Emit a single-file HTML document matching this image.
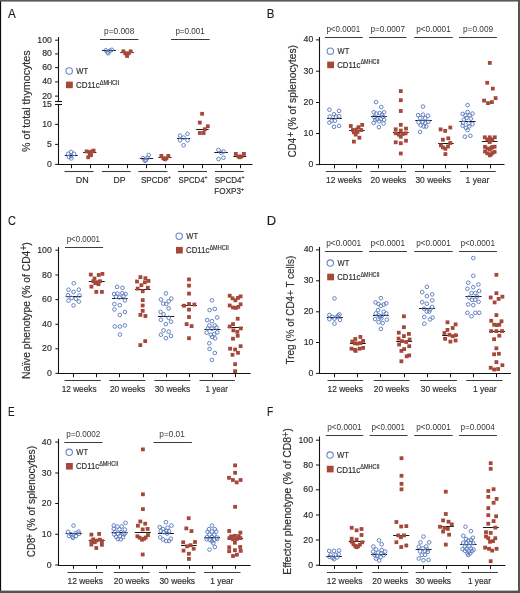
<!DOCTYPE html>
<html><head><meta charset="utf-8"><title>Figure</title>
<style>html,body{margin:0;padding:0;background:#fff;}body{width:520px;height:593px;overflow:hidden;}svg{display:block;will-change:transform;}text{stroke:#2e2e2e;stroke-width:0.18px;}</style>
</head><body>
<svg width="520" height="593" viewBox="0 0 520 593" font-family='"Liberation Sans", sans-serif'>
<rect x="0" y="0" width="520" height="593" fill="#fff"/>
<text x="8.08" y="17.9" font-size="13.7" textLength="7.75" lengthAdjust="spacingAndGlyphs" fill="#1c1c1c">A</text>
<text x="266.86" y="17.7" font-size="13.7" textLength="7.64" lengthAdjust="spacingAndGlyphs" fill="#1c1c1c">B</text>
<text x="8.05" y="224.7" font-size="13.7" textLength="7.87" lengthAdjust="spacingAndGlyphs" fill="#1c1c1c">C</text>
<text x="266.73" y="224.7" font-size="13.7" textLength="9.39" lengthAdjust="spacingAndGlyphs" fill="#1c1c1c">D</text>
<text x="7.98" y="415.8" font-size="13.7" textLength="6.65" lengthAdjust="spacingAndGlyphs" fill="#1c1c1c">E</text>
<text x="266.96" y="415.8" font-size="13.7" textLength="6.25" lengthAdjust="spacingAndGlyphs" fill="#1c1c1c">F</text>
<line x1="58.5" y1="37" x2="58.5" y2="101" stroke="#141414" stroke-width="1.1"/>
<line x1="55" y1="101.5" x2="62" y2="101.5" stroke="#141414" stroke-width="1.1"/>
<line x1="55" y1="104.5" x2="62" y2="104.5" stroke="#141414" stroke-width="1.1"/>
<line x1="58.5" y1="104.6" x2="58.5" y2="165" stroke="#141414" stroke-width="1.1"/>
<line x1="55.1" y1="40.2" x2="58.5" y2="40.2" stroke="#141414" stroke-width="1"/>
<text x="37.36" y="42.75" font-size="9.4" textLength="14.59" lengthAdjust="spacingAndGlyphs" fill="#2e2e2e">100</text>
<line x1="55.1" y1="53.9" x2="58.5" y2="53.9" stroke="#141414" stroke-width="1"/>
<text x="42.22" y="56.45" font-size="9.4" textLength="9.72" lengthAdjust="spacingAndGlyphs" fill="#2e2e2e">80</text>
<line x1="55.1" y1="67.6" x2="58.5" y2="67.6" stroke="#141414" stroke-width="1"/>
<text x="42.22" y="70.15" font-size="9.4" textLength="9.72" lengthAdjust="spacingAndGlyphs" fill="#2e2e2e">60</text>
<line x1="55.1" y1="81.9" x2="58.5" y2="81.9" stroke="#141414" stroke-width="1"/>
<text x="42.22" y="84.45" font-size="9.4" textLength="9.72" lengthAdjust="spacingAndGlyphs" fill="#2e2e2e">40</text>
<line x1="55.1" y1="96.1" x2="58.5" y2="96.1" stroke="#141414" stroke-width="1"/>
<text x="42.22" y="98.65" font-size="9.4" textLength="9.72" lengthAdjust="spacingAndGlyphs" fill="#2e2e2e">20</text>
<text x="42.24" y="107.15" font-size="9.4" textLength="9.72" lengthAdjust="spacingAndGlyphs" fill="#2e2e2e">15</text>
<line x1="55.1" y1="124.4" x2="58.5" y2="124.4" stroke="#141414" stroke-width="1"/>
<text x="42.22" y="126.95" font-size="9.4" textLength="9.72" lengthAdjust="spacingAndGlyphs" fill="#2e2e2e">10</text>
<line x1="55.1" y1="144.4" x2="58.5" y2="144.4" stroke="#141414" stroke-width="1"/>
<text x="47.11" y="146.95" font-size="9.4" textLength="4.86" lengthAdjust="spacingAndGlyphs" fill="#2e2e2e">5</text>
<line x1="55.1" y1="164.4" x2="58.5" y2="164.4" stroke="#141414" stroke-width="1"/>
<text x="47.08" y="166.95" font-size="9.4" textLength="4.86" lengthAdjust="spacingAndGlyphs" fill="#2e2e2e">0</text>
<line x1="57.95" y1="164.5" x2="252.5" y2="164.5" stroke="#141414" stroke-width="1.1"/>
<line x1="71.5" y1="164.5" x2="71.5" y2="168.2" stroke="#141414" stroke-width="1"/>
<line x1="90.5" y1="164.5" x2="90.5" y2="168.2" stroke="#141414" stroke-width="1"/>
<line x1="108.5" y1="164.5" x2="108.5" y2="168.2" stroke="#141414" stroke-width="1"/>
<line x1="127.5" y1="164.5" x2="127.5" y2="168.2" stroke="#141414" stroke-width="1"/>
<line x1="146.5" y1="164.5" x2="146.5" y2="168.2" stroke="#141414" stroke-width="1"/>
<line x1="165.5" y1="164.5" x2="165.5" y2="168.2" stroke="#141414" stroke-width="1"/>
<line x1="183.5" y1="164.5" x2="183.5" y2="168.2" stroke="#141414" stroke-width="1"/>
<line x1="202.5" y1="164.5" x2="202.5" y2="168.2" stroke="#141414" stroke-width="1"/>
<line x1="221.5" y1="164.5" x2="221.5" y2="168.2" stroke="#141414" stroke-width="1"/>
<line x1="240.5" y1="164.5" x2="240.5" y2="168.2" stroke="#141414" stroke-width="1"/>
<line x1="64.5" y1="171.5" x2="93.5" y2="171.5" stroke="#3c3c3c" stroke-width="1.1"/>
<line x1="101.9" y1="171.5" x2="130.7" y2="171.5" stroke="#3c3c3c" stroke-width="1.1"/>
<line x1="138.3" y1="171.5" x2="167.5" y2="171.5" stroke="#3c3c3c" stroke-width="1.1"/>
<line x1="178" y1="171.5" x2="207" y2="171.5" stroke="#3c3c3c" stroke-width="1.1"/>
<line x1="215" y1="171.5" x2="243.8" y2="171.5" stroke="#3c3c3c" stroke-width="1.1"/>
<text x="75.76" y="182.7" font-size="9.8" textLength="12.97" lengthAdjust="spacingAndGlyphs" fill="#2e2e2e">DN</text>
<text x="113.49" y="182.7" font-size="9.8" textLength="11.96" lengthAdjust="spacingAndGlyphs" fill="#2e2e2e">DP</text>
<g transform="translate(140.93,182.5) scale(0.8271,1)" fill="#2e2e2e">
<text x="0" y="0" font-size="9.8" textLength="32.68" lengthAdjust="spacingAndGlyphs">SPCD8</text>
<text x="32.68" y="-3.4" font-size="6.2" textLength="3.62" lengthAdjust="spacingAndGlyphs">+</text>
</g>
<g transform="translate(178.44,182.5) scale(0.7989,1)" fill="#2e2e2e">
<text x="0" y="0" font-size="9.8" textLength="32.68" lengthAdjust="spacingAndGlyphs">SPCD4</text>
<text x="32.68" y="-3.4" font-size="6.2" textLength="3.62" lengthAdjust="spacingAndGlyphs">+</text>
</g>
<g transform="translate(214.63,182.5) scale(0.8242,1)" fill="#2e2e2e">
<text x="0" y="0" font-size="9.8" textLength="32.68" lengthAdjust="spacingAndGlyphs">SPCD4</text>
<text x="32.68" y="-3.4" font-size="6.2" textLength="3.62" lengthAdjust="spacingAndGlyphs">+</text>
</g>
<g transform="translate(214.33,194.4) scale(0.8313,1)" fill="#2e2e2e">
<text x="0" y="0" font-size="9.8" textLength="32.13" lengthAdjust="spacingAndGlyphs">FOXP3</text>
<text x="32.13" y="-3.4" font-size="6.2" textLength="3.62" lengthAdjust="spacingAndGlyphs">+</text>
</g>
<text x="104.06" y="33.9" font-size="8.5" textLength="30.3" lengthAdjust="spacingAndGlyphs" fill="#383838" style="stroke-width:0">p=0.008</text>
<line x1="100" y1="39.5" x2="138.4" y2="39.5" stroke="#3c3c3c" stroke-width="1.2"/>
<text x="175.38" y="33.8" font-size="8.5" textLength="29.41" lengthAdjust="spacingAndGlyphs" fill="#383838" style="stroke-width:0">p=0.001</text>
<line x1="171" y1="39.5" x2="209.6" y2="39.5" stroke="#3c3c3c" stroke-width="1.2"/>
<circle cx="69.2" cy="71" r="3.2" fill="none" stroke="#6887c9" stroke-width="1.1"/>
<text x="76.37" y="73.9" font-size="8.9" textLength="11.81" lengthAdjust="spacingAndGlyphs" fill="#2e2e2e">WT</text>
<rect x="66" y="81.6" width="6.8" height="6.6" fill="#a5483a"/>
<g transform="translate(76.01,87.7) scale(0.8709,1)" fill="#2e2e2e">
<text x="0" y="0" font-size="8.9" textLength="27.2" lengthAdjust="spacingAndGlyphs">CD11c</text>
<text x="27.2" y="-3.2" font-size="6.4" textLength="22.41" lengthAdjust="spacingAndGlyphs">ΔMHCII</text>
</g>
<g transform="translate(29.6,151.98) rotate(-90) scale(0.9457,1)" fill="#2e2e2e">
<text x="0" y="0" font-size="11.3" textLength="107.39" lengthAdjust="spacingAndGlyphs">% of total thymocytes</text>
</g>
<line x1="64.8" y1="155.5" x2="77.7" y2="155.5" stroke="#1a1a1a" stroke-width="1"/>
<circle cx="68.2" cy="153.8" r="1.82" fill="none" stroke="#5d7cbf" stroke-width="0.95"/>
<circle cx="71.1" cy="151.9" r="1.82" fill="none" stroke="#5d7cbf" stroke-width="0.95"/>
<circle cx="74.1" cy="153.8" r="1.82" fill="none" stroke="#5d7cbf" stroke-width="0.95"/>
<circle cx="71.1" cy="156" r="1.82" fill="none" stroke="#5d7cbf" stroke-width="0.95"/>
<circle cx="68.8" cy="157" r="1.82" fill="none" stroke="#5d7cbf" stroke-width="0.95"/>
<circle cx="71.4" cy="158.4" r="1.82" fill="none" stroke="#5d7cbf" stroke-width="0.95"/>
<line x1="83.2" y1="152.5" x2="96.4" y2="152.5" stroke="#1a1a1a" stroke-width="1"/>
<rect x="84.7" y="149.5" width="3.8" height="3.8" fill="#a5483a"/>
<rect x="87.6" y="150.1" width="3.8" height="3.8" fill="#a5483a"/>
<rect x="90.7" y="149.5" width="3.8" height="3.8" fill="#a5483a"/>
<rect x="91.7" y="148.7" width="3.8" height="3.8" fill="#a5483a"/>
<rect x="87.9" y="152.6" width="3.8" height="3.8" fill="#a5483a"/>
<rect x="86.3" y="155.4" width="3.8" height="3.8" fill="#a5483a"/>
<rect x="89.1" y="153.3" width="3.8" height="3.8" fill="#a5483a"/>
<line x1="102" y1="50.5" x2="115.8" y2="50.5" stroke="#1a1a1a" stroke-width="1"/>
<circle cx="105.7" cy="50.3" r="1.82" fill="none" stroke="#5d7cbf" stroke-width="0.95"/>
<circle cx="107.6" cy="52.2" r="1.82" fill="none" stroke="#5d7cbf" stroke-width="0.95"/>
<circle cx="109.9" cy="50.8" r="1.82" fill="none" stroke="#5d7cbf" stroke-width="0.95"/>
<circle cx="111.8" cy="49.8" r="1.82" fill="none" stroke="#5d7cbf" stroke-width="0.95"/>
<circle cx="108.2" cy="53.3" r="1.82" fill="none" stroke="#5d7cbf" stroke-width="0.95"/>
<line x1="120.3" y1="52.5" x2="133.8" y2="52.5" stroke="#1a1a1a" stroke-width="1"/>
<rect x="121.5" y="49.4" width="3.8" height="3.8" fill="#a5483a"/>
<rect x="128.8" y="49.4" width="3.8" height="3.8" fill="#a5483a"/>
<rect x="123.4" y="51.4" width="3.8" height="3.8" fill="#a5483a"/>
<rect x="126.9" y="51.4" width="3.8" height="3.8" fill="#a5483a"/>
<rect x="125.2" y="54.1" width="3.8" height="3.8" fill="#a5483a"/>
<rect x="125.2" y="52.6" width="3.8" height="3.8" fill="#a5483a"/>
<line x1="139.8" y1="158.5" x2="153.1" y2="158.5" stroke="#1a1a1a" stroke-width="1"/>
<circle cx="142.9" cy="158.1" r="1.82" fill="none" stroke="#5d7cbf" stroke-width="0.95"/>
<circle cx="146" cy="160" r="1.82" fill="none" stroke="#5d7cbf" stroke-width="0.95"/>
<circle cx="148.7" cy="155" r="1.82" fill="none" stroke="#5d7cbf" stroke-width="0.95"/>
<circle cx="147.5" cy="158" r="1.82" fill="none" stroke="#5d7cbf" stroke-width="0.95"/>
<circle cx="145" cy="160.8" r="1.82" fill="none" stroke="#5d7cbf" stroke-width="0.95"/>
<line x1="158.3" y1="157.5" x2="171.5" y2="157.5" stroke="#1a1a1a" stroke-width="1"/>
<rect x="159.5" y="154" width="3.8" height="3.8" fill="#a5483a"/>
<rect x="166.4" y="154" width="3.8" height="3.8" fill="#a5483a"/>
<rect x="161.4" y="156.4" width="3.8" height="3.8" fill="#a5483a"/>
<rect x="164.5" y="156.4" width="3.8" height="3.8" fill="#a5483a"/>
<rect x="163.1" y="157.4" width="3.8" height="3.8" fill="#a5483a"/>
<line x1="177.1" y1="138.5" x2="190.2" y2="138.5" stroke="#1a1a1a" stroke-width="1"/>
<circle cx="180" cy="135.7" r="1.82" fill="none" stroke="#5d7cbf" stroke-width="0.95"/>
<circle cx="187.5" cy="133.8" r="1.82" fill="none" stroke="#5d7cbf" stroke-width="0.95"/>
<circle cx="183.6" cy="137.6" r="1.82" fill="none" stroke="#5d7cbf" stroke-width="0.95"/>
<circle cx="180" cy="140.3" r="1.82" fill="none" stroke="#5d7cbf" stroke-width="0.95"/>
<circle cx="187.5" cy="140.3" r="1.82" fill="none" stroke="#5d7cbf" stroke-width="0.95"/>
<circle cx="183.6" cy="145.3" r="1.82" fill="none" stroke="#5d7cbf" stroke-width="0.95"/>
<line x1="196.2" y1="129.5" x2="208.6" y2="129.5" stroke="#1a1a1a" stroke-width="1"/>
<rect x="200.2" y="111.9" width="3.8" height="3.8" fill="#a5483a"/>
<rect x="197.9" y="120.7" width="3.8" height="3.8" fill="#a5483a"/>
<rect x="205.9" y="124.4" width="3.8" height="3.8" fill="#a5483a"/>
<rect x="202.9" y="127.3" width="3.8" height="3.8" fill="#a5483a"/>
<rect x="197.9" y="131.1" width="3.8" height="3.8" fill="#a5483a"/>
<rect x="201.7" y="131.1" width="3.8" height="3.8" fill="#a5483a"/>
<line x1="214.3" y1="152.5" x2="227.8" y2="152.5" stroke="#1a1a1a" stroke-width="1"/>
<circle cx="218.5" cy="150" r="1.82" fill="none" stroke="#5d7cbf" stroke-width="0.95"/>
<circle cx="223.5" cy="151.5" r="1.82" fill="none" stroke="#5d7cbf" stroke-width="0.95"/>
<circle cx="221.2" cy="152.7" r="1.82" fill="none" stroke="#5d7cbf" stroke-width="0.95"/>
<circle cx="223.5" cy="157.7" r="1.82" fill="none" stroke="#5d7cbf" stroke-width="0.95"/>
<circle cx="218.5" cy="159" r="1.82" fill="none" stroke="#5d7cbf" stroke-width="0.95"/>
<line x1="233.2" y1="156.5" x2="246.2" y2="156.5" stroke="#1a1a1a" stroke-width="1"/>
<rect x="233.9" y="152" width="3.8" height="3.8" fill="#a5483a"/>
<rect x="242" y="152" width="3.8" height="3.8" fill="#a5483a"/>
<rect x="236.6" y="154.5" width="3.8" height="3.8" fill="#a5483a"/>
<rect x="239.7" y="154.5" width="3.8" height="3.8" fill="#a5483a"/>
<rect x="237.8" y="155.4" width="3.8" height="3.8" fill="#a5483a"/>
<line x1="319.5" y1="37" x2="319.5" y2="165.1" stroke="#141414" stroke-width="1.1"/>
<line x1="316" y1="39.9" x2="319.4" y2="39.9" stroke="#141414" stroke-width="1"/>
<text x="303.62" y="42.45" font-size="9.4" textLength="9.72" lengthAdjust="spacingAndGlyphs" fill="#2e2e2e">40</text>
<line x1="316" y1="71.2" x2="319.4" y2="71.2" stroke="#141414" stroke-width="1"/>
<text x="303.62" y="73.75" font-size="9.4" textLength="9.72" lengthAdjust="spacingAndGlyphs" fill="#2e2e2e">30</text>
<line x1="316" y1="102.5" x2="319.4" y2="102.5" stroke="#141414" stroke-width="1"/>
<text x="303.62" y="105.05" font-size="9.4" textLength="9.72" lengthAdjust="spacingAndGlyphs" fill="#2e2e2e">20</text>
<line x1="316" y1="133.5" x2="319.4" y2="133.5" stroke="#141414" stroke-width="1"/>
<text x="303.62" y="136.05" font-size="9.4" textLength="9.72" lengthAdjust="spacingAndGlyphs" fill="#2e2e2e">10</text>
<line x1="316" y1="164.6" x2="319.4" y2="164.6" stroke="#141414" stroke-width="1"/>
<text x="308.48" y="167.15" font-size="9.4" textLength="4.86" lengthAdjust="spacingAndGlyphs" fill="#2e2e2e">0</text>
<line x1="318.85" y1="164.5" x2="504.5" y2="164.5" stroke="#141414" stroke-width="1.1"/>
<line x1="334.5" y1="164.6" x2="334.5" y2="168.4" stroke="#141414" stroke-width="1"/>
<line x1="356.5" y1="164.6" x2="356.5" y2="168.4" stroke="#141414" stroke-width="1"/>
<line x1="378.5" y1="164.6" x2="378.5" y2="168.4" stroke="#141414" stroke-width="1"/>
<line x1="401.5" y1="164.6" x2="401.5" y2="168.4" stroke="#141414" stroke-width="1"/>
<line x1="423.5" y1="164.6" x2="423.5" y2="168.4" stroke="#141414" stroke-width="1"/>
<line x1="445.5" y1="164.6" x2="445.5" y2="168.4" stroke="#141414" stroke-width="1"/>
<line x1="467.5" y1="164.6" x2="467.5" y2="168.4" stroke="#141414" stroke-width="1"/>
<line x1="490.5" y1="164.6" x2="490.5" y2="168.4" stroke="#141414" stroke-width="1"/>
<line x1="325.8" y1="171.5" x2="361.9" y2="171.5" stroke="#3c3c3c" stroke-width="1.1"/>
<line x1="370.4" y1="171.5" x2="406.2" y2="171.5" stroke="#3c3c3c" stroke-width="1.1"/>
<line x1="415" y1="171.5" x2="451.25" y2="171.5" stroke="#3c3c3c" stroke-width="1.1"/>
<line x1="460" y1="171.5" x2="495.75" y2="171.5" stroke="#3c3c3c" stroke-width="1.1"/>
<text x="326.06" y="182.7" font-size="9.8" textLength="35.54" lengthAdjust="spacingAndGlyphs" fill="#2e2e2e">12 weeks</text>
<text x="370.57" y="182.7" font-size="9.8" textLength="35.73" lengthAdjust="spacingAndGlyphs" fill="#2e2e2e">20 weeks</text>
<text x="415.43" y="182.7" font-size="9.8" textLength="35.63" lengthAdjust="spacingAndGlyphs" fill="#2e2e2e">30 weeks</text>
<text x="465.6" y="182.7" font-size="9.8" textLength="23.79" lengthAdjust="spacingAndGlyphs" fill="#2e2e2e">1 year</text>
<text x="326.38" y="31.8" font-size="8.5" textLength="33.81" lengthAdjust="spacingAndGlyphs" fill="#383838" style="stroke-width:0">p&lt;0.0001</text>
<line x1="324.9" y1="37.5" x2="362.8" y2="37.5" stroke="#3c3c3c" stroke-width="1.2"/>
<text x="370.47" y="31.8" font-size="8.5" textLength="34.54" lengthAdjust="spacingAndGlyphs" fill="#383838" style="stroke-width:0">p=0.0007</text>
<line x1="369" y1="37.5" x2="406.5" y2="37.5" stroke="#3c3c3c" stroke-width="1.2"/>
<text x="416.17" y="31.8" font-size="8.5" textLength="34.63" lengthAdjust="spacingAndGlyphs" fill="#383838" style="stroke-width:0">p&lt;0.0001</text>
<line x1="414.2" y1="37.5" x2="452.7" y2="37.5" stroke="#3c3c3c" stroke-width="1.2"/>
<text x="462.97" y="31.8" font-size="8.5" textLength="30.12" lengthAdjust="spacingAndGlyphs" fill="#383838" style="stroke-width:0">p=0.009</text>
<line x1="459" y1="37.5" x2="496.9" y2="37.5" stroke="#3c3c3c" stroke-width="1.2"/>
<circle cx="330.3" cy="51.2" r="3.2" fill="none" stroke="#6887c9" stroke-width="1.1"/>
<text x="337.57" y="54.1" font-size="8.9" textLength="11.71" lengthAdjust="spacingAndGlyphs" fill="#2e2e2e">WT</text>
<rect x="327.2" y="61.6" width="6.8" height="6.6" fill="#a5483a"/>
<g transform="translate(337.21,67.6) scale(0.8545,1)" fill="#2e2e2e">
<text x="0" y="0" font-size="8.9" textLength="27.2" lengthAdjust="spacingAndGlyphs">CD11c</text>
<text x="27.2" y="-3.2" font-size="6.4" textLength="22.41" lengthAdjust="spacingAndGlyphs">ΔMHCII</text>
</g>
<text transform="translate(296.2,157.19) rotate(-90)" x="0" y="0" font-size="11.3" textLength="19.27" lengthAdjust="spacingAndGlyphs" fill="#2e2e2e">CD4</text>
<text transform="translate(294,136.94) rotate(-90)" x="0" y="0" font-size="10" textLength="5.29" lengthAdjust="spacingAndGlyphs" fill="#2e2e2e">+</text>
<text transform="translate(296.2,130.04) rotate(-90)" x="0" y="0" font-size="11.3" textLength="85.08" lengthAdjust="spacingAndGlyphs" fill="#2e2e2e">(% of splenocytes)</text>
<line x1="327.1" y1="118.5" x2="341.9" y2="118.5" stroke="#1a1a1a" stroke-width="1"/>
<circle cx="329.4" cy="109.7" r="1.82" fill="none" stroke="#5d7cbf" stroke-width="0.95"/>
<circle cx="339.1" cy="110.9" r="1.82" fill="none" stroke="#5d7cbf" stroke-width="0.95"/>
<circle cx="334" cy="114.3" r="1.82" fill="none" stroke="#5d7cbf" stroke-width="0.95"/>
<circle cx="329.8" cy="116.6" r="1.82" fill="none" stroke="#5d7cbf" stroke-width="0.95"/>
<circle cx="335.9" cy="116.6" r="1.82" fill="none" stroke="#5d7cbf" stroke-width="0.95"/>
<circle cx="339.1" cy="116.2" r="1.82" fill="none" stroke="#5d7cbf" stroke-width="0.95"/>
<circle cx="331.7" cy="120.8" r="1.82" fill="none" stroke="#5d7cbf" stroke-width="0.95"/>
<circle cx="334.9" cy="120.8" r="1.82" fill="none" stroke="#5d7cbf" stroke-width="0.95"/>
<circle cx="329.4" cy="122.6" r="1.82" fill="none" stroke="#5d7cbf" stroke-width="0.95"/>
<circle cx="334" cy="126.8" r="1.82" fill="none" stroke="#5d7cbf" stroke-width="0.95"/>
<circle cx="339.1" cy="125.9" r="1.82" fill="none" stroke="#5d7cbf" stroke-width="0.95"/>
<line x1="349.2" y1="130.5" x2="364.7" y2="130.5" stroke="#1a1a1a" stroke-width="1"/>
<rect x="348.9" y="124.1" width="3.8" height="3.8" fill="#a5483a"/>
<rect x="360.3" y="123" width="3.8" height="3.8" fill="#a5483a"/>
<rect x="356.6" y="125.3" width="3.8" height="3.8" fill="#a5483a"/>
<rect x="351" y="128.1" width="3.8" height="3.8" fill="#a5483a"/>
<rect x="354.7" y="127.6" width="3.8" height="3.8" fill="#a5483a"/>
<rect x="359.3" y="128.1" width="3.8" height="3.8" fill="#a5483a"/>
<rect x="352" y="130.4" width="3.8" height="3.8" fill="#a5483a"/>
<rect x="355.6" y="130" width="3.8" height="3.8" fill="#a5483a"/>
<rect x="353.8" y="132.7" width="3.8" height="3.8" fill="#a5483a"/>
<rect x="357.5" y="135.8" width="3.8" height="3.8" fill="#a5483a"/>
<rect x="352" y="139.7" width="3.8" height="3.8" fill="#a5483a"/>
<line x1="370.9" y1="116.5" x2="386.8" y2="116.5" stroke="#1a1a1a" stroke-width="1"/>
<circle cx="376.1" cy="102.1" r="1.82" fill="none" stroke="#5d7cbf" stroke-width="0.95"/>
<circle cx="381.3" cy="107.1" r="1.82" fill="none" stroke="#5d7cbf" stroke-width="0.95"/>
<circle cx="373.7" cy="112.3" r="1.82" fill="none" stroke="#5d7cbf" stroke-width="0.95"/>
<circle cx="384.1" cy="112.3" r="1.82" fill="none" stroke="#5d7cbf" stroke-width="0.95"/>
<circle cx="376.4" cy="113.6" r="1.82" fill="none" stroke="#5d7cbf" stroke-width="0.95"/>
<circle cx="379.7" cy="113.1" r="1.82" fill="none" stroke="#5d7cbf" stroke-width="0.95"/>
<circle cx="381.9" cy="114.7" r="1.82" fill="none" stroke="#5d7cbf" stroke-width="0.95"/>
<circle cx="374.2" cy="116.9" r="1.82" fill="none" stroke="#5d7cbf" stroke-width="0.95"/>
<circle cx="383" cy="116.9" r="1.82" fill="none" stroke="#5d7cbf" stroke-width="0.95"/>
<circle cx="377" cy="119.1" r="1.82" fill="none" stroke="#5d7cbf" stroke-width="0.95"/>
<circle cx="380.8" cy="119.1" r="1.82" fill="none" stroke="#5d7cbf" stroke-width="0.95"/>
<circle cx="384.1" cy="119.7" r="1.82" fill="none" stroke="#5d7cbf" stroke-width="0.95"/>
<circle cx="375.3" cy="120.2" r="1.82" fill="none" stroke="#5d7cbf" stroke-width="0.95"/>
<circle cx="379.2" cy="121.3" r="1.82" fill="none" stroke="#5d7cbf" stroke-width="0.95"/>
<circle cx="373.7" cy="122.9" r="1.82" fill="none" stroke="#5d7cbf" stroke-width="0.95"/>
<circle cx="383.5" cy="123.5" r="1.82" fill="none" stroke="#5d7cbf" stroke-width="0.95"/>
<circle cx="378.9" cy="127.1" r="1.82" fill="none" stroke="#5d7cbf" stroke-width="0.95"/>
<line x1="392.8" y1="132.5" x2="408.7" y2="132.5" stroke="#1a1a1a" stroke-width="1"/>
<rect x="398.9" y="89.2" width="3.8" height="3.8" fill="#a5483a"/>
<rect x="398.9" y="98.3" width="3.8" height="3.8" fill="#a5483a"/>
<rect x="398.9" y="109.1" width="3.8" height="3.8" fill="#a5483a"/>
<rect x="398.9" y="122.9" width="3.8" height="3.8" fill="#a5483a"/>
<rect x="393.8" y="127.4" width="3.8" height="3.8" fill="#a5483a"/>
<rect x="398.9" y="128.7" width="3.8" height="3.8" fill="#a5483a"/>
<rect x="404.1" y="126.7" width="3.8" height="3.8" fill="#a5483a"/>
<rect x="393.8" y="131.4" width="3.8" height="3.8" fill="#a5483a"/>
<rect x="396.9" y="132.8" width="3.8" height="3.8" fill="#a5483a"/>
<rect x="401" y="132.1" width="3.8" height="3.8" fill="#a5483a"/>
<rect x="403.7" y="131.4" width="3.8" height="3.8" fill="#a5483a"/>
<rect x="398.9" y="134.8" width="3.8" height="3.8" fill="#a5483a"/>
<rect x="393.8" y="140.4" width="3.8" height="3.8" fill="#a5483a"/>
<rect x="398.9" y="141.3" width="3.8" height="3.8" fill="#a5483a"/>
<rect x="404.1" y="138.8" width="3.8" height="3.8" fill="#a5483a"/>
<rect x="398.9" y="151.6" width="3.8" height="3.8" fill="#a5483a"/>
<line x1="415.3" y1="120.5" x2="431.8" y2="120.5" stroke="#1a1a1a" stroke-width="1"/>
<circle cx="423" cy="106.6" r="1.82" fill="none" stroke="#5d7cbf" stroke-width="0.95"/>
<circle cx="418.1" cy="115.2" r="1.82" fill="none" stroke="#5d7cbf" stroke-width="0.95"/>
<circle cx="423" cy="114.7" r="1.82" fill="none" stroke="#5d7cbf" stroke-width="0.95"/>
<circle cx="428" cy="115.7" r="1.82" fill="none" stroke="#5d7cbf" stroke-width="0.95"/>
<circle cx="420.1" cy="118.2" r="1.82" fill="none" stroke="#5d7cbf" stroke-width="0.95"/>
<circle cx="425.2" cy="118.2" r="1.82" fill="none" stroke="#5d7cbf" stroke-width="0.95"/>
<circle cx="418.6" cy="122.3" r="1.82" fill="none" stroke="#5d7cbf" stroke-width="0.95"/>
<circle cx="422.7" cy="121.8" r="1.82" fill="none" stroke="#5d7cbf" stroke-width="0.95"/>
<circle cx="428.2" cy="121.8" r="1.82" fill="none" stroke="#5d7cbf" stroke-width="0.95"/>
<circle cx="425.2" cy="122.8" r="1.82" fill="none" stroke="#5d7cbf" stroke-width="0.95"/>
<circle cx="420.6" cy="125.3" r="1.82" fill="none" stroke="#5d7cbf" stroke-width="0.95"/>
<circle cx="423.7" cy="126.5" r="1.82" fill="none" stroke="#5d7cbf" stroke-width="0.95"/>
<circle cx="426.2" cy="126.5" r="1.82" fill="none" stroke="#5d7cbf" stroke-width="0.95"/>
<circle cx="420.1" cy="131.9" r="1.82" fill="none" stroke="#5d7cbf" stroke-width="0.95"/>
<line x1="438.1" y1="143.5" x2="453.7" y2="143.5" stroke="#1a1a1a" stroke-width="1"/>
<rect x="438.7" y="127.5" width="3.8" height="3.8" fill="#a5483a"/>
<rect x="443.3" y="129" width="3.8" height="3.8" fill="#a5483a"/>
<rect x="448.4" y="125.6" width="3.8" height="3.8" fill="#a5483a"/>
<rect x="446.4" y="136.4" width="3.8" height="3.8" fill="#a5483a"/>
<rect x="441" y="137.8" width="3.8" height="3.8" fill="#a5483a"/>
<rect x="448.4" y="141.1" width="3.8" height="3.8" fill="#a5483a"/>
<rect x="439" y="143.4" width="3.8" height="3.8" fill="#a5483a"/>
<rect x="446.1" y="144.5" width="3.8" height="3.8" fill="#a5483a"/>
<rect x="441" y="145.5" width="3.8" height="3.8" fill="#a5483a"/>
<rect x="443.5" y="146.9" width="3.8" height="3.8" fill="#a5483a"/>
<rect x="443.5" y="152.2" width="3.8" height="3.8" fill="#a5483a"/>
<line x1="459.4" y1="121.5" x2="475.6" y2="121.5" stroke="#1a1a1a" stroke-width="1"/>
<circle cx="467.6" cy="105.1" r="1.82" fill="none" stroke="#5d7cbf" stroke-width="0.95"/>
<circle cx="467.6" cy="112" r="1.82" fill="none" stroke="#5d7cbf" stroke-width="0.95"/>
<circle cx="462.7" cy="113.9" r="1.82" fill="none" stroke="#5d7cbf" stroke-width="0.95"/>
<circle cx="472.5" cy="113.6" r="1.82" fill="none" stroke="#5d7cbf" stroke-width="0.95"/>
<circle cx="465.4" cy="115.3" r="1.82" fill="none" stroke="#5d7cbf" stroke-width="0.95"/>
<circle cx="469.8" cy="115.3" r="1.82" fill="none" stroke="#5d7cbf" stroke-width="0.95"/>
<circle cx="466.5" cy="118" r="1.82" fill="none" stroke="#5d7cbf" stroke-width="0.95"/>
<circle cx="470.9" cy="118.6" r="1.82" fill="none" stroke="#5d7cbf" stroke-width="0.95"/>
<circle cx="463.8" cy="119.7" r="1.82" fill="none" stroke="#5d7cbf" stroke-width="0.95"/>
<circle cx="463.2" cy="123" r="1.82" fill="none" stroke="#5d7cbf" stroke-width="0.95"/>
<circle cx="468.7" cy="123.5" r="1.82" fill="none" stroke="#5d7cbf" stroke-width="0.95"/>
<circle cx="472.5" cy="124.1" r="1.82" fill="none" stroke="#5d7cbf" stroke-width="0.95"/>
<circle cx="462.7" cy="125.7" r="1.82" fill="none" stroke="#5d7cbf" stroke-width="0.95"/>
<circle cx="469.3" cy="126.3" r="1.82" fill="none" stroke="#5d7cbf" stroke-width="0.95"/>
<circle cx="466" cy="127.9" r="1.82" fill="none" stroke="#5d7cbf" stroke-width="0.95"/>
<circle cx="467.6" cy="130.1" r="1.82" fill="none" stroke="#5d7cbf" stroke-width="0.95"/>
<circle cx="464.9" cy="136.7" r="1.82" fill="none" stroke="#5d7cbf" stroke-width="0.95"/>
<circle cx="470.4" cy="135.8" r="1.82" fill="none" stroke="#5d7cbf" stroke-width="0.95"/>
<line x1="481.9" y1="141.5" x2="497.5" y2="141.5" stroke="#1a1a1a" stroke-width="1"/>
<rect x="487.9" y="61" width="3.8" height="3.8" fill="#a5483a"/>
<rect x="485.3" y="80.9" width="3.8" height="3.8" fill="#a5483a"/>
<rect x="490.9" y="86.7" width="3.8" height="3.8" fill="#a5483a"/>
<rect x="493.7" y="96.2" width="3.8" height="3.8" fill="#a5483a"/>
<rect x="482.2" y="98.7" width="3.8" height="3.8" fill="#a5483a"/>
<rect x="486.1" y="101.2" width="3.8" height="3.8" fill="#a5483a"/>
<rect x="490" y="100.2" width="3.8" height="3.8" fill="#a5483a"/>
<rect x="482.9" y="135.4" width="3.8" height="3.8" fill="#a5483a"/>
<rect x="487.9" y="135.4" width="3.8" height="3.8" fill="#a5483a"/>
<rect x="492.9" y="135.4" width="3.8" height="3.8" fill="#a5483a"/>
<rect x="485.4" y="137.5" width="3.8" height="3.8" fill="#a5483a"/>
<rect x="490.4" y="137.5" width="3.8" height="3.8" fill="#a5483a"/>
<rect x="487.7" y="140.2" width="3.8" height="3.8" fill="#a5483a"/>
<rect x="488.9" y="138.6" width="3.8" height="3.8" fill="#a5483a"/>
<rect x="483.1" y="145" width="3.8" height="3.8" fill="#a5483a"/>
<rect x="492.7" y="144.8" width="3.8" height="3.8" fill="#a5483a"/>
<rect x="490.4" y="145.1" width="3.8" height="3.8" fill="#a5483a"/>
<rect x="485.6" y="146.6" width="3.8" height="3.8" fill="#a5483a"/>
<rect x="487.9" y="147.5" width="3.8" height="3.8" fill="#a5483a"/>
<rect x="489.5" y="146.1" width="3.8" height="3.8" fill="#a5483a"/>
<rect x="483.1" y="149.6" width="3.8" height="3.8" fill="#a5483a"/>
<rect x="492.7" y="150" width="3.8" height="3.8" fill="#a5483a"/>
<rect x="485.4" y="151.4" width="3.8" height="3.8" fill="#a5483a"/>
<rect x="490.4" y="151.1" width="3.8" height="3.8" fill="#a5483a"/>
<rect x="487.9" y="153.4" width="3.8" height="3.8" fill="#a5483a"/>
<rect x="489" y="152.5" width="3.8" height="3.8" fill="#a5483a"/>
<line x1="58.5" y1="247.1" x2="58.5" y2="373.9" stroke="#141414" stroke-width="1.1"/>
<line x1="55.4" y1="250.2" x2="58.8" y2="250.2" stroke="#141414" stroke-width="1"/>
<text x="37.26" y="252.75" font-size="9.4" textLength="14.59" lengthAdjust="spacingAndGlyphs" fill="#2e2e2e">100</text>
<line x1="55.4" y1="275" x2="58.8" y2="275" stroke="#141414" stroke-width="1"/>
<text x="42.12" y="277.55" font-size="9.4" textLength="9.72" lengthAdjust="spacingAndGlyphs" fill="#2e2e2e">80</text>
<line x1="55.4" y1="299.6" x2="58.8" y2="299.6" stroke="#141414" stroke-width="1"/>
<text x="42.12" y="302.15" font-size="9.4" textLength="9.72" lengthAdjust="spacingAndGlyphs" fill="#2e2e2e">60</text>
<line x1="55.4" y1="324.3" x2="58.8" y2="324.3" stroke="#141414" stroke-width="1"/>
<text x="42.12" y="326.85" font-size="9.4" textLength="9.72" lengthAdjust="spacingAndGlyphs" fill="#2e2e2e">40</text>
<line x1="55.4" y1="348.8" x2="58.8" y2="348.8" stroke="#141414" stroke-width="1"/>
<text x="42.12" y="351.35" font-size="9.4" textLength="9.72" lengthAdjust="spacingAndGlyphs" fill="#2e2e2e">20</text>
<line x1="55.4" y1="373.4" x2="58.8" y2="373.4" stroke="#141414" stroke-width="1"/>
<text x="46.98" y="375.95" font-size="9.4" textLength="4.86" lengthAdjust="spacingAndGlyphs" fill="#2e2e2e">0</text>
<line x1="58.25" y1="373.5" x2="250.6" y2="373.5" stroke="#141414" stroke-width="1.1"/>
<line x1="73.5" y1="373.4" x2="73.5" y2="377.2" stroke="#141414" stroke-width="1"/>
<line x1="96.5" y1="373.4" x2="96.5" y2="377.2" stroke="#141414" stroke-width="1"/>
<line x1="119.5" y1="373.4" x2="119.5" y2="377.2" stroke="#141414" stroke-width="1"/>
<line x1="143.5" y1="373.4" x2="143.5" y2="377.2" stroke="#141414" stroke-width="1"/>
<line x1="166.5" y1="373.4" x2="166.5" y2="377.2" stroke="#141414" stroke-width="1"/>
<line x1="189.5" y1="373.4" x2="189.5" y2="377.2" stroke="#141414" stroke-width="1"/>
<line x1="212.5" y1="373.4" x2="212.5" y2="377.2" stroke="#141414" stroke-width="1"/>
<line x1="235.5" y1="373.4" x2="235.5" y2="377.2" stroke="#141414" stroke-width="1"/>
<line x1="64.6" y1="380.5" x2="100.8" y2="380.5" stroke="#3c3c3c" stroke-width="1.1"/>
<line x1="109.2" y1="380.5" x2="145.4" y2="380.5" stroke="#3c3c3c" stroke-width="1.1"/>
<line x1="154.4" y1="380.5" x2="190.4" y2="380.5" stroke="#3c3c3c" stroke-width="1.1"/>
<line x1="199.5" y1="380.5" x2="234.8" y2="380.5" stroke="#3c3c3c" stroke-width="1.1"/>
<text x="61.67" y="392" font-size="9.8" textLength="34.93" lengthAdjust="spacingAndGlyphs" fill="#2e2e2e">12 weeks</text>
<text x="109.98" y="392" font-size="9.8" textLength="35.32" lengthAdjust="spacingAndGlyphs" fill="#2e2e2e">20 weeks</text>
<text x="154.68" y="392" font-size="9.8" textLength="35.63" lengthAdjust="spacingAndGlyphs" fill="#2e2e2e">30 weeks</text>
<text x="205.59" y="392" font-size="9.8" textLength="22.35" lengthAdjust="spacingAndGlyphs" fill="#2e2e2e">1 year</text>
<text x="66.69" y="242" font-size="8.5" textLength="33.3" lengthAdjust="spacingAndGlyphs" fill="#383838" style="stroke-width:0">p&lt;0.0001</text>
<line x1="65" y1="247.5" x2="103.1" y2="247.5" stroke="#3c3c3c" stroke-width="1.2"/>
<circle cx="179.2" cy="236.2" r="3.2" fill="none" stroke="#6887c9" stroke-width="1.1"/>
<text x="186.37" y="239.1" font-size="8.9" textLength="11.71" lengthAdjust="spacingAndGlyphs" fill="#2e2e2e">WT</text>
<rect x="176" y="246.9" width="6.8" height="6.6" fill="#a5483a"/>
<g transform="translate(186.01,252.9) scale(0.8607,1)" fill="#2e2e2e">
<text x="0" y="0" font-size="8.9" textLength="27.2" lengthAdjust="spacingAndGlyphs">CD11c</text>
<text x="27.2" y="-3.2" font-size="6.4" textLength="22.41" lengthAdjust="spacingAndGlyphs">ΔMHCII</text>
</g>
<text transform="translate(30,378.94) rotate(-90)" x="0" y="0" font-size="11.3" textLength="128.25" lengthAdjust="spacingAndGlyphs" fill="#2e2e2e">Naïve phenotype (% of CD4</text>
<text transform="translate(27.25,250.3) rotate(-90)" x="0" y="0" font-size="10" textLength="4.81" lengthAdjust="spacingAndGlyphs" fill="#2e2e2e">+</text>
<text transform="translate(30,245.56) rotate(-90)" x="0" y="0" font-size="11.3" textLength="3.27" lengthAdjust="spacingAndGlyphs" fill="#2e2e2e">)</text>
<line x1="65.7" y1="296.5" x2="81.4" y2="296.5" stroke="#1a1a1a" stroke-width="1"/>
<circle cx="73.8" cy="283.3" r="1.82" fill="none" stroke="#5d7cbf" stroke-width="0.95"/>
<circle cx="68.5" cy="289.7" r="1.82" fill="none" stroke="#5d7cbf" stroke-width="0.95"/>
<circle cx="73.5" cy="291.9" r="1.82" fill="none" stroke="#5d7cbf" stroke-width="0.95"/>
<circle cx="78.8" cy="289.7" r="1.82" fill="none" stroke="#5d7cbf" stroke-width="0.95"/>
<circle cx="68" cy="295.3" r="1.82" fill="none" stroke="#5d7cbf" stroke-width="0.95"/>
<circle cx="79.5" cy="295.5" r="1.82" fill="none" stroke="#5d7cbf" stroke-width="0.95"/>
<circle cx="71.7" cy="298" r="1.82" fill="none" stroke="#5d7cbf" stroke-width="0.95"/>
<circle cx="75.9" cy="298.8" r="1.82" fill="none" stroke="#5d7cbf" stroke-width="0.95"/>
<circle cx="68.5" cy="300.6" r="1.82" fill="none" stroke="#5d7cbf" stroke-width="0.95"/>
<circle cx="78.8" cy="301.6" r="1.82" fill="none" stroke="#5d7cbf" stroke-width="0.95"/>
<circle cx="73.5" cy="305.4" r="1.82" fill="none" stroke="#5d7cbf" stroke-width="0.95"/>
<line x1="88.8" y1="281.5" x2="104.7" y2="281.5" stroke="#1a1a1a" stroke-width="1"/>
<rect x="88.9" y="272.7" width="3.8" height="3.8" fill="#a5483a"/>
<rect x="96.8" y="273.1" width="3.8" height="3.8" fill="#a5483a"/>
<rect x="100.5" y="272" width="3.8" height="3.8" fill="#a5483a"/>
<rect x="92.6" y="276.6" width="3.8" height="3.8" fill="#a5483a"/>
<rect x="91.5" y="279.3" width="3.8" height="3.8" fill="#a5483a"/>
<rect x="95.2" y="280.3" width="3.8" height="3.8" fill="#a5483a"/>
<rect x="98.1" y="279.3" width="3.8" height="3.8" fill="#a5483a"/>
<rect x="96.6" y="282.3" width="3.8" height="3.8" fill="#a5483a"/>
<rect x="93.3" y="281.2" width="3.8" height="3.8" fill="#a5483a"/>
<rect x="89.5" y="284.7" width="3.8" height="3.8" fill="#a5483a"/>
<rect x="94.4" y="290" width="3.8" height="3.8" fill="#a5483a"/>
<rect x="100" y="290" width="3.8" height="3.8" fill="#a5483a"/>
<line x1="112.1" y1="298.5" x2="127.6" y2="298.5" stroke="#1a1a1a" stroke-width="1"/>
<circle cx="117.1" cy="286.9" r="1.82" fill="none" stroke="#5d7cbf" stroke-width="0.95"/>
<circle cx="122.5" cy="287.9" r="1.82" fill="none" stroke="#5d7cbf" stroke-width="0.95"/>
<circle cx="114.1" cy="294" r="1.82" fill="none" stroke="#5d7cbf" stroke-width="0.95"/>
<circle cx="117.5" cy="293.6" r="1.82" fill="none" stroke="#5d7cbf" stroke-width="0.95"/>
<circle cx="122.2" cy="293.3" r="1.82" fill="none" stroke="#5d7cbf" stroke-width="0.95"/>
<circle cx="125.6" cy="294" r="1.82" fill="none" stroke="#5d7cbf" stroke-width="0.95"/>
<circle cx="116.1" cy="296.7" r="1.82" fill="none" stroke="#5d7cbf" stroke-width="0.95"/>
<circle cx="119.5" cy="297.4" r="1.82" fill="none" stroke="#5d7cbf" stroke-width="0.95"/>
<circle cx="123.5" cy="296" r="1.82" fill="none" stroke="#5d7cbf" stroke-width="0.95"/>
<circle cx="124.9" cy="300.4" r="1.82" fill="none" stroke="#5d7cbf" stroke-width="0.95"/>
<circle cx="114.4" cy="304.1" r="1.82" fill="none" stroke="#5d7cbf" stroke-width="0.95"/>
<circle cx="119.8" cy="305.2" r="1.82" fill="none" stroke="#5d7cbf" stroke-width="0.95"/>
<circle cx="114.4" cy="309.5" r="1.82" fill="none" stroke="#5d7cbf" stroke-width="0.95"/>
<circle cx="124.9" cy="312" r="1.82" fill="none" stroke="#5d7cbf" stroke-width="0.95"/>
<circle cx="119.8" cy="314.9" r="1.82" fill="none" stroke="#5d7cbf" stroke-width="0.95"/>
<circle cx="114.8" cy="326.5" r="1.82" fill="none" stroke="#5d7cbf" stroke-width="0.95"/>
<circle cx="119.9" cy="326.5" r="1.82" fill="none" stroke="#5d7cbf" stroke-width="0.95"/>
<circle cx="124.9" cy="325.4" r="1.82" fill="none" stroke="#5d7cbf" stroke-width="0.95"/>
<circle cx="119.9" cy="334.6" r="1.82" fill="none" stroke="#5d7cbf" stroke-width="0.95"/>
<line x1="135" y1="289.5" x2="150.5" y2="289.5" stroke="#1a1a1a" stroke-width="1"/>
<rect x="138.5" y="275.2" width="3.8" height="3.8" fill="#a5483a"/>
<rect x="143.5" y="276.3" width="3.8" height="3.8" fill="#a5483a"/>
<rect x="135.1" y="279.6" width="3.8" height="3.8" fill="#a5483a"/>
<rect x="143" y="280.4" width="3.8" height="3.8" fill="#a5483a"/>
<rect x="146.6" y="279" width="3.8" height="3.8" fill="#a5483a"/>
<rect x="139.5" y="283.3" width="3.8" height="3.8" fill="#a5483a"/>
<rect x="135.8" y="286.7" width="3.8" height="3.8" fill="#a5483a"/>
<rect x="145.9" y="285.8" width="3.8" height="3.8" fill="#a5483a"/>
<rect x="140.8" y="289.4" width="3.8" height="3.8" fill="#a5483a"/>
<rect x="140.8" y="298.2" width="3.8" height="3.8" fill="#a5483a"/>
<rect x="140.8" y="303.6" width="3.8" height="3.8" fill="#a5483a"/>
<rect x="140.8" y="309" width="3.8" height="3.8" fill="#a5483a"/>
<rect x="138.5" y="313" width="3.8" height="3.8" fill="#a5483a"/>
<rect x="143.5" y="314.1" width="3.8" height="3.8" fill="#a5483a"/>
<rect x="143.3" y="339.2" width="3.8" height="3.8" fill="#a5483a"/>
<rect x="138.4" y="343.2" width="3.8" height="3.8" fill="#a5483a"/>
<line x1="158" y1="316.5" x2="174.2" y2="316.5" stroke="#1a1a1a" stroke-width="1"/>
<circle cx="165.9" cy="293.4" r="1.82" fill="none" stroke="#5d7cbf" stroke-width="0.95"/>
<circle cx="160.9" cy="299.5" r="1.82" fill="none" stroke="#5d7cbf" stroke-width="0.95"/>
<circle cx="171.3" cy="298.6" r="1.82" fill="none" stroke="#5d7cbf" stroke-width="0.95"/>
<circle cx="168.7" cy="301.3" r="1.82" fill="none" stroke="#5d7cbf" stroke-width="0.95"/>
<circle cx="163.2" cy="303.6" r="1.82" fill="none" stroke="#5d7cbf" stroke-width="0.95"/>
<circle cx="166.3" cy="304" r="1.82" fill="none" stroke="#5d7cbf" stroke-width="0.95"/>
<circle cx="168.7" cy="308.4" r="1.82" fill="none" stroke="#5d7cbf" stroke-width="0.95"/>
<circle cx="160.6" cy="311.9" r="1.82" fill="none" stroke="#5d7cbf" stroke-width="0.95"/>
<circle cx="163.6" cy="314.3" r="1.82" fill="none" stroke="#5d7cbf" stroke-width="0.95"/>
<circle cx="168.7" cy="317.8" r="1.82" fill="none" stroke="#5d7cbf" stroke-width="0.95"/>
<circle cx="160.9" cy="319.8" r="1.82" fill="none" stroke="#5d7cbf" stroke-width="0.95"/>
<circle cx="171" cy="321.7" r="1.82" fill="none" stroke="#5d7cbf" stroke-width="0.95"/>
<circle cx="165.9" cy="324.1" r="1.82" fill="none" stroke="#5d7cbf" stroke-width="0.95"/>
<circle cx="163.6" cy="330.4" r="1.82" fill="none" stroke="#5d7cbf" stroke-width="0.95"/>
<circle cx="168.7" cy="331.6" r="1.82" fill="none" stroke="#5d7cbf" stroke-width="0.95"/>
<circle cx="160.9" cy="334.7" r="1.82" fill="none" stroke="#5d7cbf" stroke-width="0.95"/>
<circle cx="171" cy="335.9" r="1.82" fill="none" stroke="#5d7cbf" stroke-width="0.95"/>
<circle cx="165.9" cy="338.2" r="1.82" fill="none" stroke="#5d7cbf" stroke-width="0.95"/>
<line x1="181.3" y1="305.5" x2="197" y2="305.5" stroke="#1a1a1a" stroke-width="1"/>
<rect x="187.1" y="277.5" width="3.8" height="3.8" fill="#a5483a"/>
<rect x="187.1" y="283.7" width="3.8" height="3.8" fill="#a5483a"/>
<rect x="187.1" y="291.7" width="3.8" height="3.8" fill="#a5483a"/>
<rect x="182.1" y="303.8" width="3.8" height="3.8" fill="#a5483a"/>
<rect x="187.1" y="302.1" width="3.8" height="3.8" fill="#a5483a"/>
<rect x="192.4" y="302.6" width="3.8" height="3.8" fill="#a5483a"/>
<rect x="187.1" y="307.7" width="3.8" height="3.8" fill="#a5483a"/>
<rect x="187.1" y="315.1" width="3.8" height="3.8" fill="#a5483a"/>
<rect x="184.7" y="322.2" width="3.8" height="3.8" fill="#a5483a"/>
<rect x="189.7" y="324.2" width="3.8" height="3.8" fill="#a5483a"/>
<rect x="187.1" y="336.3" width="3.8" height="3.8" fill="#a5483a"/>
<line x1="204.3" y1="329.5" x2="220.5" y2="329.5" stroke="#1a1a1a" stroke-width="1"/>
<circle cx="211.9" cy="300.3" r="1.82" fill="none" stroke="#5d7cbf" stroke-width="0.95"/>
<circle cx="209.6" cy="310.1" r="1.82" fill="none" stroke="#5d7cbf" stroke-width="0.95"/>
<circle cx="214.8" cy="308.9" r="1.82" fill="none" stroke="#5d7cbf" stroke-width="0.95"/>
<circle cx="217.2" cy="317.5" r="1.82" fill="none" stroke="#5d7cbf" stroke-width="0.95"/>
<circle cx="207.2" cy="320.1" r="1.82" fill="none" stroke="#5d7cbf" stroke-width="0.95"/>
<circle cx="211.9" cy="321.2" r="1.82" fill="none" stroke="#5d7cbf" stroke-width="0.95"/>
<circle cx="209.3" cy="325.5" r="1.82" fill="none" stroke="#5d7cbf" stroke-width="0.95"/>
<circle cx="214.8" cy="325.5" r="1.82" fill="none" stroke="#5d7cbf" stroke-width="0.95"/>
<circle cx="216.5" cy="327.5" r="1.82" fill="none" stroke="#5d7cbf" stroke-width="0.95"/>
<circle cx="207.9" cy="328.4" r="1.82" fill="none" stroke="#5d7cbf" stroke-width="0.95"/>
<circle cx="211.9" cy="328.7" r="1.82" fill="none" stroke="#5d7cbf" stroke-width="0.95"/>
<circle cx="217.2" cy="332.3" r="1.82" fill="none" stroke="#5d7cbf" stroke-width="0.95"/>
<circle cx="206.7" cy="332.7" r="1.82" fill="none" stroke="#5d7cbf" stroke-width="0.95"/>
<circle cx="210.8" cy="334.7" r="1.82" fill="none" stroke="#5d7cbf" stroke-width="0.95"/>
<circle cx="214.3" cy="334.1" r="1.82" fill="none" stroke="#5d7cbf" stroke-width="0.95"/>
<circle cx="212.2" cy="337" r="1.82" fill="none" stroke="#5d7cbf" stroke-width="0.95"/>
<circle cx="215.1" cy="338.4" r="1.82" fill="none" stroke="#5d7cbf" stroke-width="0.95"/>
<circle cx="209.3" cy="343.3" r="1.82" fill="none" stroke="#5d7cbf" stroke-width="0.95"/>
<circle cx="209.6" cy="349" r="1.82" fill="none" stroke="#5d7cbf" stroke-width="0.95"/>
<circle cx="214.8" cy="353" r="1.82" fill="none" stroke="#5d7cbf" stroke-width="0.95"/>
<circle cx="211.9" cy="359.9" r="1.82" fill="none" stroke="#5d7cbf" stroke-width="0.95"/>
<line x1="227.7" y1="327.5" x2="243" y2="327.5" stroke="#1a1a1a" stroke-width="1"/>
<rect x="227.8" y="293.8" width="3.8" height="3.8" fill="#a5483a"/>
<rect x="230.6" y="296.4" width="3.8" height="3.8" fill="#a5483a"/>
<rect x="233.5" y="298.4" width="3.8" height="3.8" fill="#a5483a"/>
<rect x="236.1" y="296" width="3.8" height="3.8" fill="#a5483a"/>
<rect x="238.7" y="294.5" width="3.8" height="3.8" fill="#a5483a"/>
<rect x="227.8" y="303.6" width="3.8" height="3.8" fill="#a5483a"/>
<rect x="231.1" y="305.6" width="3.8" height="3.8" fill="#a5483a"/>
<rect x="233.9" y="306" width="3.8" height="3.8" fill="#a5483a"/>
<rect x="236.4" y="305" width="3.8" height="3.8" fill="#a5483a"/>
<rect x="238.7" y="302.4" width="3.8" height="3.8" fill="#a5483a"/>
<rect x="235.8" y="316.8" width="3.8" height="3.8" fill="#a5483a"/>
<rect x="231.1" y="322.2" width="3.8" height="3.8" fill="#a5483a"/>
<rect x="227.8" y="324.6" width="3.8" height="3.8" fill="#a5483a"/>
<rect x="238.9" y="326.5" width="3.8" height="3.8" fill="#a5483a"/>
<rect x="231.5" y="328.5" width="3.8" height="3.8" fill="#a5483a"/>
<rect x="235.4" y="329.9" width="3.8" height="3.8" fill="#a5483a"/>
<rect x="235.8" y="333.9" width="3.8" height="3.8" fill="#a5483a"/>
<rect x="231.1" y="336.8" width="3.8" height="3.8" fill="#a5483a"/>
<rect x="238.7" y="344.3" width="3.8" height="3.8" fill="#a5483a"/>
<rect x="228.2" y="346.8" width="3.8" height="3.8" fill="#a5483a"/>
<rect x="233.2" y="347.6" width="3.8" height="3.8" fill="#a5483a"/>
<rect x="236.1" y="350.9" width="3.8" height="3.8" fill="#a5483a"/>
<rect x="230.6" y="352.9" width="3.8" height="3.8" fill="#a5483a"/>
<rect x="233.2" y="362.3" width="3.8" height="3.8" fill="#a5483a"/>
<rect x="233.2" y="369.3" width="3.8" height="3.8" fill="#a5483a"/>
<line x1="319.5" y1="246.9" x2="319.5" y2="373.9" stroke="#141414" stroke-width="1.1"/>
<line x1="316" y1="249.9" x2="319.4" y2="249.9" stroke="#141414" stroke-width="1"/>
<text x="303.72" y="252.45" font-size="9.4" textLength="9.72" lengthAdjust="spacingAndGlyphs" fill="#2e2e2e">40</text>
<line x1="316" y1="280.8" x2="319.4" y2="280.8" stroke="#141414" stroke-width="1"/>
<text x="303.72" y="283.35" font-size="9.4" textLength="9.72" lengthAdjust="spacingAndGlyphs" fill="#2e2e2e">30</text>
<line x1="316" y1="311.8" x2="319.4" y2="311.8" stroke="#141414" stroke-width="1"/>
<text x="303.72" y="314.35" font-size="9.4" textLength="9.72" lengthAdjust="spacingAndGlyphs" fill="#2e2e2e">20</text>
<line x1="316" y1="342.5" x2="319.4" y2="342.5" stroke="#141414" stroke-width="1"/>
<text x="303.72" y="345.05" font-size="9.4" textLength="9.72" lengthAdjust="spacingAndGlyphs" fill="#2e2e2e">10</text>
<line x1="316" y1="373.4" x2="319.4" y2="373.4" stroke="#141414" stroke-width="1"/>
<text x="308.58" y="375.95" font-size="9.4" textLength="4.86" lengthAdjust="spacingAndGlyphs" fill="#2e2e2e">0</text>
<line x1="318.85" y1="373.5" x2="511" y2="373.5" stroke="#141414" stroke-width="1.1"/>
<line x1="334.5" y1="373.4" x2="334.5" y2="377.2" stroke="#141414" stroke-width="1"/>
<line x1="357.5" y1="373.4" x2="357.5" y2="377.2" stroke="#141414" stroke-width="1"/>
<line x1="380.5" y1="373.4" x2="380.5" y2="377.2" stroke="#141414" stroke-width="1"/>
<line x1="404.5" y1="373.4" x2="404.5" y2="377.2" stroke="#141414" stroke-width="1"/>
<line x1="427.5" y1="373.4" x2="427.5" y2="377.2" stroke="#141414" stroke-width="1"/>
<line x1="450.5" y1="373.4" x2="450.5" y2="377.2" stroke="#141414" stroke-width="1"/>
<line x1="473.5" y1="373.4" x2="473.5" y2="377.2" stroke="#141414" stroke-width="1"/>
<line x1="496.5" y1="373.4" x2="496.5" y2="377.2" stroke="#141414" stroke-width="1"/>
<line x1="327.5" y1="380.5" x2="363.1" y2="380.5" stroke="#3c3c3c" stroke-width="1.1"/>
<line x1="373.7" y1="380.5" x2="409.6" y2="380.5" stroke="#3c3c3c" stroke-width="1.1"/>
<line x1="420.1" y1="380.5" x2="456.9" y2="380.5" stroke="#3c3c3c" stroke-width="1.1"/>
<line x1="466.2" y1="380.5" x2="502.5" y2="380.5" stroke="#3c3c3c" stroke-width="1.1"/>
<text x="327.46" y="392" font-size="9.8" textLength="35.54" lengthAdjust="spacingAndGlyphs" fill="#2e2e2e">12 weeks</text>
<text x="373.78" y="392" font-size="9.8" textLength="35.32" lengthAdjust="spacingAndGlyphs" fill="#2e2e2e">20 weeks</text>
<text x="420.78" y="392" font-size="9.8" textLength="35.63" lengthAdjust="spacingAndGlyphs" fill="#2e2e2e">30 weeks</text>
<text x="472.95" y="392" font-size="9.8" textLength="23.69" lengthAdjust="spacingAndGlyphs" fill="#2e2e2e">1 year</text>
<text x="326.16" y="245.8" font-size="8.5" textLength="35.05" lengthAdjust="spacingAndGlyphs" fill="#383838" style="stroke-width:0">p&lt;0.0001</text>
<line x1="324.8" y1="251.5" x2="362.7" y2="251.5" stroke="#3c3c3c" stroke-width="1.2"/>
<text x="370.47" y="245.8" font-size="8.5" textLength="34.53" lengthAdjust="spacingAndGlyphs" fill="#383838" style="stroke-width:0">p&lt;0.0001</text>
<line x1="369" y1="251.5" x2="406.9" y2="251.5" stroke="#3c3c3c" stroke-width="1.2"/>
<text x="416.17" y="245.8" font-size="8.5" textLength="34.63" lengthAdjust="spacingAndGlyphs" fill="#383838" style="stroke-width:0">p&lt;0.0001</text>
<line x1="414.2" y1="251.5" x2="452.7" y2="251.5" stroke="#3c3c3c" stroke-width="1.2"/>
<text x="460.47" y="245.8" font-size="8.5" textLength="34.53" lengthAdjust="spacingAndGlyphs" fill="#383838" style="stroke-width:0">p&lt;0.0001</text>
<line x1="459" y1="251.5" x2="496.9" y2="251.5" stroke="#3c3c3c" stroke-width="1.2"/>
<circle cx="330.3" cy="263.1" r="3.2" fill="none" stroke="#6887c9" stroke-width="1.1"/>
<text x="337.57" y="266" font-size="8.9" textLength="11.71" lengthAdjust="spacingAndGlyphs" fill="#2e2e2e">WT</text>
<rect x="327.2" y="273.7" width="6.8" height="6.6" fill="#a5483a"/>
<g transform="translate(337.21,279.8) scale(0.8545,1)" fill="#2e2e2e">
<text x="0" y="0" font-size="8.9" textLength="27.2" lengthAdjust="spacingAndGlyphs">CD11c</text>
<text x="27.2" y="-3.2" font-size="6.4" textLength="22.41" lengthAdjust="spacingAndGlyphs">ΔMHCII</text>
</g>
<text transform="translate(293.8,364.42) rotate(-90)" x="0" y="0" font-size="11.3" textLength="108.63" lengthAdjust="spacingAndGlyphs" fill="#2e2e2e">Treg (% of CD4+ T cells)</text>
<line x1="326.8" y1="317.5" x2="342.8" y2="317.5" stroke="#1a1a1a" stroke-width="1"/>
<circle cx="334.5" cy="298.4" r="1.82" fill="none" stroke="#5d7cbf" stroke-width="0.95"/>
<circle cx="329.4" cy="315" r="1.82" fill="none" stroke="#5d7cbf" stroke-width="0.95"/>
<circle cx="339.5" cy="314.5" r="1.82" fill="none" stroke="#5d7cbf" stroke-width="0.95"/>
<circle cx="332.2" cy="316.9" r="1.82" fill="none" stroke="#5d7cbf" stroke-width="0.95"/>
<circle cx="336.8" cy="316.9" r="1.82" fill="none" stroke="#5d7cbf" stroke-width="0.95"/>
<circle cx="338.2" cy="315.5" r="1.82" fill="none" stroke="#5d7cbf" stroke-width="0.95"/>
<circle cx="329.4" cy="319.2" r="1.82" fill="none" stroke="#5d7cbf" stroke-width="0.95"/>
<circle cx="340" cy="319.9" r="1.82" fill="none" stroke="#5d7cbf" stroke-width="0.95"/>
<circle cx="334.5" cy="318.7" r="1.82" fill="none" stroke="#5d7cbf" stroke-width="0.95"/>
<circle cx="334.5" cy="323.6" r="1.82" fill="none" stroke="#5d7cbf" stroke-width="0.95"/>
<line x1="349.9" y1="343.5" x2="365.8" y2="343.5" stroke="#1a1a1a" stroke-width="1"/>
<rect x="358.5" y="335" width="3.8" height="3.8" fill="#a5483a"/>
<rect x="353.4" y="337.1" width="3.8" height="3.8" fill="#a5483a"/>
<rect x="350.4" y="339.6" width="3.8" height="3.8" fill="#a5483a"/>
<rect x="361.2" y="339" width="3.8" height="3.8" fill="#a5483a"/>
<rect x="352.9" y="341.4" width="3.8" height="3.8" fill="#a5483a"/>
<rect x="355.6" y="341.7" width="3.8" height="3.8" fill="#a5483a"/>
<rect x="358.5" y="341.2" width="3.8" height="3.8" fill="#a5483a"/>
<rect x="349.6" y="346.8" width="3.8" height="3.8" fill="#a5483a"/>
<rect x="353.1" y="347.9" width="3.8" height="3.8" fill="#a5483a"/>
<rect x="357.7" y="346.8" width="3.8" height="3.8" fill="#a5483a"/>
<rect x="361.2" y="346" width="3.8" height="3.8" fill="#a5483a"/>
<rect x="353.7" y="349" width="3.8" height="3.8" fill="#a5483a"/>
<line x1="372.9" y1="315.5" x2="388.7" y2="315.5" stroke="#1a1a1a" stroke-width="1"/>
<circle cx="380.9" cy="298.2" r="1.82" fill="none" stroke="#5d7cbf" stroke-width="0.95"/>
<circle cx="375.5" cy="302.4" r="1.82" fill="none" stroke="#5d7cbf" stroke-width="0.95"/>
<circle cx="378.4" cy="303.9" r="1.82" fill="none" stroke="#5d7cbf" stroke-width="0.95"/>
<circle cx="380.9" cy="305.8" r="1.82" fill="none" stroke="#5d7cbf" stroke-width="0.95"/>
<circle cx="383.7" cy="304.5" r="1.82" fill="none" stroke="#5d7cbf" stroke-width="0.95"/>
<circle cx="386.2" cy="303.3" r="1.82" fill="none" stroke="#5d7cbf" stroke-width="0.95"/>
<circle cx="378" cy="310.2" r="1.82" fill="none" stroke="#5d7cbf" stroke-width="0.95"/>
<circle cx="383.7" cy="311.7" r="1.82" fill="none" stroke="#5d7cbf" stroke-width="0.95"/>
<circle cx="375.8" cy="313.4" r="1.82" fill="none" stroke="#5d7cbf" stroke-width="0.95"/>
<circle cx="386.2" cy="313.4" r="1.82" fill="none" stroke="#5d7cbf" stroke-width="0.95"/>
<circle cx="378.6" cy="315.3" r="1.82" fill="none" stroke="#5d7cbf" stroke-width="0.95"/>
<circle cx="381.8" cy="315.9" r="1.82" fill="none" stroke="#5d7cbf" stroke-width="0.95"/>
<circle cx="379.9" cy="317.1" r="1.82" fill="none" stroke="#5d7cbf" stroke-width="0.95"/>
<circle cx="375.1" cy="319" r="1.82" fill="none" stroke="#5d7cbf" stroke-width="0.95"/>
<circle cx="386.8" cy="319.7" r="1.82" fill="none" stroke="#5d7cbf" stroke-width="0.95"/>
<circle cx="381.2" cy="318.4" r="1.82" fill="none" stroke="#5d7cbf" stroke-width="0.95"/>
<circle cx="378.6" cy="322.2" r="1.82" fill="none" stroke="#5d7cbf" stroke-width="0.95"/>
<circle cx="382.7" cy="323.1" r="1.82" fill="none" stroke="#5d7cbf" stroke-width="0.95"/>
<circle cx="380.9" cy="328.9" r="1.82" fill="none" stroke="#5d7cbf" stroke-width="0.95"/>
<line x1="396.3" y1="341.5" x2="412.1" y2="341.5" stroke="#1a1a1a" stroke-width="1"/>
<rect x="402" y="314.4" width="3.8" height="3.8" fill="#a5483a"/>
<rect x="402" y="325.3" width="3.8" height="3.8" fill="#a5483a"/>
<rect x="396.9" y="330.8" width="3.8" height="3.8" fill="#a5483a"/>
<rect x="407" y="332" width="3.8" height="3.8" fill="#a5483a"/>
<rect x="402" y="334.2" width="3.8" height="3.8" fill="#a5483a"/>
<rect x="396.7" y="336.7" width="3.8" height="3.8" fill="#a5483a"/>
<rect x="407.7" y="337.6" width="3.8" height="3.8" fill="#a5483a"/>
<rect x="400.1" y="339.2" width="3.8" height="3.8" fill="#a5483a"/>
<rect x="404.3" y="340.1" width="3.8" height="3.8" fill="#a5483a"/>
<rect x="397.2" y="342.6" width="3.8" height="3.8" fill="#a5483a"/>
<rect x="407.3" y="344.3" width="3.8" height="3.8" fill="#a5483a"/>
<rect x="402.2" y="347.2" width="3.8" height="3.8" fill="#a5483a"/>
<rect x="399.5" y="349" width="3.8" height="3.8" fill="#a5483a"/>
<rect x="404.8" y="354.4" width="3.8" height="3.8" fill="#a5483a"/>
<rect x="407.3" y="353.5" width="3.8" height="3.8" fill="#a5483a"/>
<rect x="399.5" y="359.4" width="3.8" height="3.8" fill="#a5483a"/>
<line x1="418.9" y1="308.5" x2="435.1" y2="308.5" stroke="#1a1a1a" stroke-width="1"/>
<circle cx="426.9" cy="286.9" r="1.82" fill="none" stroke="#5d7cbf" stroke-width="0.95"/>
<circle cx="422.2" cy="292.2" r="1.82" fill="none" stroke="#5d7cbf" stroke-width="0.95"/>
<circle cx="432.2" cy="294.4" r="1.82" fill="none" stroke="#5d7cbf" stroke-width="0.95"/>
<circle cx="426.9" cy="296.1" r="1.82" fill="none" stroke="#5d7cbf" stroke-width="0.95"/>
<circle cx="432.2" cy="300.4" r="1.82" fill="none" stroke="#5d7cbf" stroke-width="0.95"/>
<circle cx="422.2" cy="302.2" r="1.82" fill="none" stroke="#5d7cbf" stroke-width="0.95"/>
<circle cx="426.9" cy="303.7" r="1.82" fill="none" stroke="#5d7cbf" stroke-width="0.95"/>
<circle cx="432.2" cy="307" r="1.82" fill="none" stroke="#5d7cbf" stroke-width="0.95"/>
<circle cx="424" cy="308.7" r="1.82" fill="none" stroke="#5d7cbf" stroke-width="0.95"/>
<circle cx="430.1" cy="309.4" r="1.82" fill="none" stroke="#5d7cbf" stroke-width="0.95"/>
<circle cx="426.9" cy="311.5" r="1.82" fill="none" stroke="#5d7cbf" stroke-width="0.95"/>
<circle cx="429.3" cy="311.5" r="1.82" fill="none" stroke="#5d7cbf" stroke-width="0.95"/>
<circle cx="424.3" cy="317" r="1.82" fill="none" stroke="#5d7cbf" stroke-width="0.95"/>
<circle cx="432.6" cy="317.6" r="1.82" fill="none" stroke="#5d7cbf" stroke-width="0.95"/>
<circle cx="430.1" cy="319.4" r="1.82" fill="none" stroke="#5d7cbf" stroke-width="0.95"/>
<circle cx="424.3" cy="323.7" r="1.82" fill="none" stroke="#5d7cbf" stroke-width="0.95"/>
<line x1="442.2" y1="335.5" x2="458" y2="335.5" stroke="#1a1a1a" stroke-width="1"/>
<rect x="445.6" y="320.4" width="3.8" height="3.8" fill="#a5483a"/>
<rect x="453.7" y="322.5" width="3.8" height="3.8" fill="#a5483a"/>
<rect x="450.8" y="326.1" width="3.8" height="3.8" fill="#a5483a"/>
<rect x="445.6" y="328" width="3.8" height="3.8" fill="#a5483a"/>
<rect x="442.5" y="331.1" width="3.8" height="3.8" fill="#a5483a"/>
<rect x="447.5" y="332.9" width="3.8" height="3.8" fill="#a5483a"/>
<rect x="450.8" y="334.3" width="3.8" height="3.8" fill="#a5483a"/>
<rect x="453.9" y="333.3" width="3.8" height="3.8" fill="#a5483a"/>
<rect x="443.2" y="336.9" width="3.8" height="3.8" fill="#a5483a"/>
<rect x="448.5" y="339.7" width="3.8" height="3.8" fill="#a5483a"/>
<rect x="453.7" y="338.6" width="3.8" height="3.8" fill="#a5483a"/>
<line x1="465.4" y1="296.5" x2="481.6" y2="296.5" stroke="#1a1a1a" stroke-width="1"/>
<circle cx="473.3" cy="258.1" r="1.82" fill="none" stroke="#5d7cbf" stroke-width="0.95"/>
<circle cx="473.3" cy="275.8" r="1.82" fill="none" stroke="#5d7cbf" stroke-width="0.95"/>
<circle cx="468.2" cy="282.7" r="1.82" fill="none" stroke="#5d7cbf" stroke-width="0.95"/>
<circle cx="478.4" cy="284.5" r="1.82" fill="none" stroke="#5d7cbf" stroke-width="0.95"/>
<circle cx="473.3" cy="287.2" r="1.82" fill="none" stroke="#5d7cbf" stroke-width="0.95"/>
<circle cx="467.4" cy="288.8" r="1.82" fill="none" stroke="#5d7cbf" stroke-width="0.95"/>
<circle cx="479.2" cy="291" r="1.82" fill="none" stroke="#5d7cbf" stroke-width="0.95"/>
<circle cx="471.5" cy="293.1" r="1.82" fill="none" stroke="#5d7cbf" stroke-width="0.95"/>
<circle cx="475.3" cy="293.1" r="1.82" fill="none" stroke="#5d7cbf" stroke-width="0.95"/>
<circle cx="469.2" cy="297.5" r="1.82" fill="none" stroke="#5d7cbf" stroke-width="0.95"/>
<circle cx="477.2" cy="296.6" r="1.82" fill="none" stroke="#5d7cbf" stroke-width="0.95"/>
<circle cx="472.1" cy="299.8" r="1.82" fill="none" stroke="#5d7cbf" stroke-width="0.95"/>
<circle cx="475.1" cy="299.8" r="1.82" fill="none" stroke="#5d7cbf" stroke-width="0.95"/>
<circle cx="478.6" cy="301.8" r="1.82" fill="none" stroke="#5d7cbf" stroke-width="0.95"/>
<circle cx="468.2" cy="304.5" r="1.82" fill="none" stroke="#5d7cbf" stroke-width="0.95"/>
<circle cx="473.3" cy="305.1" r="1.82" fill="none" stroke="#5d7cbf" stroke-width="0.95"/>
<circle cx="467.4" cy="312.8" r="1.82" fill="none" stroke="#5d7cbf" stroke-width="0.95"/>
<circle cx="471.5" cy="316.3" r="1.82" fill="none" stroke="#5d7cbf" stroke-width="0.95"/>
<circle cx="475.3" cy="312.8" r="1.82" fill="none" stroke="#5d7cbf" stroke-width="0.95"/>
<circle cx="479.2" cy="312.8" r="1.82" fill="none" stroke="#5d7cbf" stroke-width="0.95"/>
<line x1="489" y1="331.5" x2="505" y2="331.5" stroke="#1a1a1a" stroke-width="1"/>
<rect x="494.5" y="272.9" width="3.8" height="3.8" fill="#a5483a"/>
<rect x="494.5" y="291.3" width="3.8" height="3.8" fill="#a5483a"/>
<rect x="488.8" y="295.6" width="3.8" height="3.8" fill="#a5483a"/>
<rect x="496.7" y="297" width="3.8" height="3.8" fill="#a5483a"/>
<rect x="500.5" y="294.8" width="3.8" height="3.8" fill="#a5483a"/>
<rect x="492.7" y="300.5" width="3.8" height="3.8" fill="#a5483a"/>
<rect x="494.5" y="313.2" width="3.8" height="3.8" fill="#a5483a"/>
<rect x="489.3" y="318.9" width="3.8" height="3.8" fill="#a5483a"/>
<rect x="499.6" y="319.4" width="3.8" height="3.8" fill="#a5483a"/>
<rect x="492.2" y="322.8" width="3.8" height="3.8" fill="#a5483a"/>
<rect x="495" y="323.2" width="3.8" height="3.8" fill="#a5483a"/>
<rect x="497.4" y="322.8" width="3.8" height="3.8" fill="#a5483a"/>
<rect x="489.3" y="329.2" width="3.8" height="3.8" fill="#a5483a"/>
<rect x="494.5" y="329.2" width="3.8" height="3.8" fill="#a5483a"/>
<rect x="500.1" y="329.2" width="3.8" height="3.8" fill="#a5483a"/>
<rect x="497.4" y="333.8" width="3.8" height="3.8" fill="#a5483a"/>
<rect x="492.2" y="337.3" width="3.8" height="3.8" fill="#a5483a"/>
<rect x="494.5" y="346.4" width="3.8" height="3.8" fill="#a5483a"/>
<rect x="492.2" y="352.4" width="3.8" height="3.8" fill="#a5483a"/>
<rect x="497" y="351.9" width="3.8" height="3.8" fill="#a5483a"/>
<rect x="494.5" y="360.2" width="3.8" height="3.8" fill="#a5483a"/>
<rect x="488.8" y="365.9" width="3.8" height="3.8" fill="#a5483a"/>
<rect x="492.2" y="367.6" width="3.8" height="3.8" fill="#a5483a"/>
<rect x="496.2" y="367.1" width="3.8" height="3.8" fill="#a5483a"/>
<rect x="500.5" y="363.3" width="3.8" height="3.8" fill="#a5483a"/>
<line x1="58.5" y1="438.8" x2="58.5" y2="565.5" stroke="#141414" stroke-width="1.1"/>
<line x1="55.2" y1="442.1" x2="58.6" y2="442.1" stroke="#141414" stroke-width="1"/>
<text x="41.82" y="444.65" font-size="9.4" textLength="9.72" lengthAdjust="spacingAndGlyphs" fill="#2e2e2e">40</text>
<line x1="55.2" y1="473" x2="58.6" y2="473" stroke="#141414" stroke-width="1"/>
<text x="41.82" y="475.55" font-size="9.4" textLength="9.72" lengthAdjust="spacingAndGlyphs" fill="#2e2e2e">30</text>
<line x1="55.2" y1="503.5" x2="58.6" y2="503.5" stroke="#141414" stroke-width="1"/>
<text x="41.82" y="506.05" font-size="9.4" textLength="9.72" lengthAdjust="spacingAndGlyphs" fill="#2e2e2e">20</text>
<line x1="55.2" y1="534.3" x2="58.6" y2="534.3" stroke="#141414" stroke-width="1"/>
<text x="41.82" y="536.85" font-size="9.4" textLength="9.72" lengthAdjust="spacingAndGlyphs" fill="#2e2e2e">10</text>
<line x1="55.2" y1="565" x2="58.6" y2="565" stroke="#141414" stroke-width="1"/>
<text x="46.68" y="567.55" font-size="9.4" textLength="4.86" lengthAdjust="spacingAndGlyphs" fill="#2e2e2e">0</text>
<line x1="58.05" y1="565.5" x2="250.6" y2="565.5" stroke="#141414" stroke-width="1.1"/>
<line x1="73.5" y1="565" x2="73.5" y2="568.8" stroke="#141414" stroke-width="1"/>
<line x1="96.5" y1="565" x2="96.5" y2="568.8" stroke="#141414" stroke-width="1"/>
<line x1="119.5" y1="565" x2="119.5" y2="568.8" stroke="#141414" stroke-width="1"/>
<line x1="142.5" y1="565" x2="142.5" y2="568.8" stroke="#141414" stroke-width="1"/>
<line x1="166.5" y1="565" x2="166.5" y2="568.8" stroke="#141414" stroke-width="1"/>
<line x1="189.5" y1="565" x2="189.5" y2="568.8" stroke="#141414" stroke-width="1"/>
<line x1="212.5" y1="565" x2="212.5" y2="568.8" stroke="#141414" stroke-width="1"/>
<line x1="235.5" y1="565" x2="235.5" y2="568.8" stroke="#141414" stroke-width="1"/>
<line x1="67.5" y1="572.5" x2="103.1" y2="572.5" stroke="#3c3c3c" stroke-width="1.1"/>
<line x1="113.7" y1="572.5" x2="149.6" y2="572.5" stroke="#3c3c3c" stroke-width="1.1"/>
<line x1="159.1" y1="572.5" x2="195.5" y2="572.5" stroke="#3c3c3c" stroke-width="1.1"/>
<line x1="204.1" y1="572.5" x2="240.5" y2="572.5" stroke="#3c3c3c" stroke-width="1.1"/>
<text x="67.46" y="583.5" font-size="9.8" textLength="35.54" lengthAdjust="spacingAndGlyphs" fill="#2e2e2e">12 weeks</text>
<text x="113.77" y="583.5" font-size="9.8" textLength="35.73" lengthAdjust="spacingAndGlyphs" fill="#2e2e2e">20 weeks</text>
<text x="159.38" y="583.5" font-size="9.8" textLength="35.73" lengthAdjust="spacingAndGlyphs" fill="#2e2e2e">30 weeks</text>
<text x="210.37" y="583.5" font-size="9.8" textLength="22.97" lengthAdjust="spacingAndGlyphs" fill="#2e2e2e">1 year</text>
<text x="66.18" y="437.3" font-size="8.5" textLength="34.13" lengthAdjust="spacingAndGlyphs" fill="#383838" style="stroke-width:0">p=0.0002</text>
<line x1="64.3" y1="442.5" x2="102.5" y2="442.5" stroke="#3c3c3c" stroke-width="1.2"/>
<text x="159.37" y="437.3" font-size="8.5" textLength="25.43" lengthAdjust="spacingAndGlyphs" fill="#383838" style="stroke-width:0">p=0.01</text>
<line x1="153.5" y1="442.5" x2="191.9" y2="442.5" stroke="#3c3c3c" stroke-width="1.2"/>
<circle cx="69.2" cy="452.3" r="3.2" fill="none" stroke="#6887c9" stroke-width="1.1"/>
<text x="76.37" y="455.2" font-size="8.9" textLength="11.71" lengthAdjust="spacingAndGlyphs" fill="#2e2e2e">WT</text>
<rect x="66" y="463" width="6.8" height="6.6" fill="#a5483a"/>
<g transform="translate(76.02,468.8) scale(0.8504,1)" fill="#2e2e2e">
<text x="0" y="0" font-size="8.9" textLength="27.2" lengthAdjust="spacingAndGlyphs">CD11c</text>
<text x="27.2" y="-3.2" font-size="6.4" textLength="22.41" lengthAdjust="spacingAndGlyphs">ΔMHCII</text>
</g>
<text transform="translate(35.1,556.88) rotate(-90)" x="0" y="0" font-size="11.3" textLength="19.1" lengthAdjust="spacingAndGlyphs" fill="#2e2e2e">CD8</text>
<text transform="translate(33.4,538.41) rotate(-90)" x="0" y="0" font-size="10" textLength="4.93" lengthAdjust="spacingAndGlyphs" fill="#2e2e2e">+</text>
<text transform="translate(35.1,531.04) rotate(-90)" x="0" y="0" font-size="11.3" textLength="85.29" lengthAdjust="spacingAndGlyphs" fill="#2e2e2e">(% of splenocytes)</text>
<line x1="65.5" y1="533.5" x2="81.9" y2="533.5" stroke="#1a1a1a" stroke-width="1"/>
<circle cx="73.5" cy="525.6" r="1.82" fill="none" stroke="#5d7cbf" stroke-width="0.95"/>
<circle cx="68" cy="531.9" r="1.82" fill="none" stroke="#5d7cbf" stroke-width="0.95"/>
<circle cx="78.6" cy="531.7" r="1.82" fill="none" stroke="#5d7cbf" stroke-width="0.95"/>
<circle cx="70.8" cy="534.2" r="1.82" fill="none" stroke="#5d7cbf" stroke-width="0.95"/>
<circle cx="75.9" cy="533" r="1.82" fill="none" stroke="#5d7cbf" stroke-width="0.95"/>
<circle cx="68.9" cy="536" r="1.82" fill="none" stroke="#5d7cbf" stroke-width="0.95"/>
<circle cx="72.3" cy="536.5" r="1.82" fill="none" stroke="#5d7cbf" stroke-width="0.95"/>
<circle cx="75.9" cy="536" r="1.82" fill="none" stroke="#5d7cbf" stroke-width="0.95"/>
<circle cx="73.1" cy="537.9" r="1.82" fill="none" stroke="#5d7cbf" stroke-width="0.95"/>
<circle cx="79.1" cy="533.7" r="1.82" fill="none" stroke="#5d7cbf" stroke-width="0.95"/>
<line x1="88.8" y1="540.5" x2="104.7" y2="540.5" stroke="#1a1a1a" stroke-width="1"/>
<rect x="89.5" y="532.7" width="3.8" height="3.8" fill="#a5483a"/>
<rect x="97.2" y="532" width="3.8" height="3.8" fill="#a5483a"/>
<rect x="91.3" y="537.5" width="3.8" height="3.8" fill="#a5483a"/>
<rect x="94.4" y="538.7" width="3.8" height="3.8" fill="#a5483a"/>
<rect x="98" y="537.8" width="3.8" height="3.8" fill="#a5483a"/>
<rect x="100" y="539.2" width="3.8" height="3.8" fill="#a5483a"/>
<rect x="89.5" y="539.4" width="3.8" height="3.8" fill="#a5483a"/>
<rect x="92.9" y="540.3" width="3.8" height="3.8" fill="#a5483a"/>
<rect x="89.5" y="542.7" width="3.8" height="3.8" fill="#a5483a"/>
<rect x="100" y="542.9" width="3.8" height="3.8" fill="#a5483a"/>
<rect x="94.4" y="546.1" width="3.8" height="3.8" fill="#a5483a"/>
<line x1="111.5" y1="532.5" x2="127.7" y2="532.5" stroke="#1a1a1a" stroke-width="1"/>
<circle cx="125.6" cy="522.9" r="1.82" fill="none" stroke="#5d7cbf" stroke-width="0.95"/>
<circle cx="113.8" cy="525.5" r="1.82" fill="none" stroke="#5d7cbf" stroke-width="0.95"/>
<circle cx="117.5" cy="526.6" r="1.82" fill="none" stroke="#5d7cbf" stroke-width="0.95"/>
<circle cx="121.7" cy="526.4" r="1.82" fill="none" stroke="#5d7cbf" stroke-width="0.95"/>
<circle cx="113.8" cy="528.9" r="1.82" fill="none" stroke="#5d7cbf" stroke-width="0.95"/>
<circle cx="119.4" cy="529.4" r="1.82" fill="none" stroke="#5d7cbf" stroke-width="0.95"/>
<circle cx="124.9" cy="529.6" r="1.82" fill="none" stroke="#5d7cbf" stroke-width="0.95"/>
<circle cx="115.2" cy="531.7" r="1.82" fill="none" stroke="#5d7cbf" stroke-width="0.95"/>
<circle cx="121.2" cy="532.2" r="1.82" fill="none" stroke="#5d7cbf" stroke-width="0.95"/>
<circle cx="114.3" cy="534.5" r="1.82" fill="none" stroke="#5d7cbf" stroke-width="0.95"/>
<circle cx="118" cy="534" r="1.82" fill="none" stroke="#5d7cbf" stroke-width="0.95"/>
<circle cx="123.5" cy="534.2" r="1.82" fill="none" stroke="#5d7cbf" stroke-width="0.95"/>
<circle cx="124.9" cy="533.5" r="1.82" fill="none" stroke="#5d7cbf" stroke-width="0.95"/>
<circle cx="116.2" cy="536.8" r="1.82" fill="none" stroke="#5d7cbf" stroke-width="0.95"/>
<circle cx="119.9" cy="536.3" r="1.82" fill="none" stroke="#5d7cbf" stroke-width="0.95"/>
<circle cx="123.1" cy="537.2" r="1.82" fill="none" stroke="#5d7cbf" stroke-width="0.95"/>
<circle cx="118" cy="539.1" r="1.82" fill="none" stroke="#5d7cbf" stroke-width="0.95"/>
<circle cx="120.8" cy="539.4" r="1.82" fill="none" stroke="#5d7cbf" stroke-width="0.95"/>
<line x1="134.8" y1="532.5" x2="150.8" y2="532.5" stroke="#1a1a1a" stroke-width="1"/>
<rect x="141" y="447.5" width="3.8" height="3.8" fill="#a5483a"/>
<rect x="141" y="492.4" width="3.8" height="3.8" fill="#a5483a"/>
<rect x="141" y="507.2" width="3.8" height="3.8" fill="#a5483a"/>
<rect x="138.4" y="519.6" width="3.8" height="3.8" fill="#a5483a"/>
<rect x="143.3" y="521.8" width="3.8" height="3.8" fill="#a5483a"/>
<rect x="136" y="523.8" width="3.8" height="3.8" fill="#a5483a"/>
<rect x="140.8" y="527.5" width="3.8" height="3.8" fill="#a5483a"/>
<rect x="145.7" y="527" width="3.8" height="3.8" fill="#a5483a"/>
<rect x="135.5" y="534.4" width="3.8" height="3.8" fill="#a5483a"/>
<rect x="137.8" y="535.8" width="3.8" height="3.8" fill="#a5483a"/>
<rect x="146.1" y="533.2" width="3.8" height="3.8" fill="#a5483a"/>
<rect x="143.8" y="535.6" width="3.8" height="3.8" fill="#a5483a"/>
<rect x="140.1" y="537.8" width="3.8" height="3.8" fill="#a5483a"/>
<rect x="142" y="536.9" width="3.8" height="3.8" fill="#a5483a"/>
<rect x="140.8" y="552.6" width="3.8" height="3.8" fill="#a5483a"/>
<line x1="157.9" y1="533.5" x2="173.9" y2="533.5" stroke="#1a1a1a" stroke-width="1"/>
<circle cx="165.9" cy="522.2" r="1.82" fill="none" stroke="#5d7cbf" stroke-width="0.95"/>
<circle cx="159.7" cy="527.1" r="1.82" fill="none" stroke="#5d7cbf" stroke-width="0.95"/>
<circle cx="171.5" cy="525.6" r="1.82" fill="none" stroke="#5d7cbf" stroke-width="0.95"/>
<circle cx="167.6" cy="527.8" r="1.82" fill="none" stroke="#5d7cbf" stroke-width="0.95"/>
<circle cx="163" cy="529" r="1.82" fill="none" stroke="#5d7cbf" stroke-width="0.95"/>
<circle cx="160.7" cy="530.9" r="1.82" fill="none" stroke="#5d7cbf" stroke-width="0.95"/>
<circle cx="166.2" cy="530.9" r="1.82" fill="none" stroke="#5d7cbf" stroke-width="0.95"/>
<circle cx="169" cy="531.3" r="1.82" fill="none" stroke="#5d7cbf" stroke-width="0.95"/>
<circle cx="163.9" cy="532.2" r="1.82" fill="none" stroke="#5d7cbf" stroke-width="0.95"/>
<circle cx="167.1" cy="533.6" r="1.82" fill="none" stroke="#5d7cbf" stroke-width="0.95"/>
<circle cx="160.2" cy="537.3" r="1.82" fill="none" stroke="#5d7cbf" stroke-width="0.95"/>
<circle cx="163" cy="539.5" r="1.82" fill="none" stroke="#5d7cbf" stroke-width="0.95"/>
<circle cx="166.2" cy="541" r="1.82" fill="none" stroke="#5d7cbf" stroke-width="0.95"/>
<circle cx="169" cy="541" r="1.82" fill="none" stroke="#5d7cbf" stroke-width="0.95"/>
<circle cx="170.9" cy="538.7" r="1.82" fill="none" stroke="#5d7cbf" stroke-width="0.95"/>
<line x1="181" y1="545.5" x2="196.8" y2="545.5" stroke="#1a1a1a" stroke-width="1"/>
<rect x="186.8" y="516.3" width="3.8" height="3.8" fill="#a5483a"/>
<rect x="184.4" y="526.5" width="3.8" height="3.8" fill="#a5483a"/>
<rect x="189.6" y="529.2" width="3.8" height="3.8" fill="#a5483a"/>
<rect x="181.3" y="540.4" width="3.8" height="3.8" fill="#a5483a"/>
<rect x="193.1" y="540.1" width="3.8" height="3.8" fill="#a5483a"/>
<rect x="185.2" y="544.4" width="3.8" height="3.8" fill="#a5483a"/>
<rect x="188.7" y="543.3" width="3.8" height="3.8" fill="#a5483a"/>
<rect x="191.8" y="546.8" width="3.8" height="3.8" fill="#a5483a"/>
<rect x="181.6" y="548.7" width="3.8" height="3.8" fill="#a5483a"/>
<rect x="187" y="551.8" width="3.8" height="3.8" fill="#a5483a"/>
<rect x="187" y="557" width="3.8" height="3.8" fill="#a5483a"/>
<line x1="204.2" y1="537.5" x2="220" y2="537.5" stroke="#1a1a1a" stroke-width="1"/>
<circle cx="211.9" cy="525.6" r="1.82" fill="none" stroke="#5d7cbf" stroke-width="0.95"/>
<circle cx="209" cy="529.2" r="1.82" fill="none" stroke="#5d7cbf" stroke-width="0.95"/>
<circle cx="214.8" cy="529.2" r="1.82" fill="none" stroke="#5d7cbf" stroke-width="0.95"/>
<circle cx="207.5" cy="531.9" r="1.82" fill="none" stroke="#5d7cbf" stroke-width="0.95"/>
<circle cx="211.9" cy="531.6" r="1.82" fill="none" stroke="#5d7cbf" stroke-width="0.95"/>
<circle cx="216.2" cy="531.6" r="1.82" fill="none" stroke="#5d7cbf" stroke-width="0.95"/>
<circle cx="209.5" cy="534.5" r="1.82" fill="none" stroke="#5d7cbf" stroke-width="0.95"/>
<circle cx="214.3" cy="534.8" r="1.82" fill="none" stroke="#5d7cbf" stroke-width="0.95"/>
<circle cx="207.1" cy="537.1" r="1.82" fill="none" stroke="#5d7cbf" stroke-width="0.95"/>
<circle cx="211.9" cy="536.9" r="1.82" fill="none" stroke="#5d7cbf" stroke-width="0.95"/>
<circle cx="216.7" cy="537.4" r="1.82" fill="none" stroke="#5d7cbf" stroke-width="0.95"/>
<circle cx="206.6" cy="539.3" r="1.82" fill="none" stroke="#5d7cbf" stroke-width="0.95"/>
<circle cx="209.9" cy="540" r="1.82" fill="none" stroke="#5d7cbf" stroke-width="0.95"/>
<circle cx="214.3" cy="539.8" r="1.82" fill="none" stroke="#5d7cbf" stroke-width="0.95"/>
<circle cx="217.2" cy="539" r="1.82" fill="none" stroke="#5d7cbf" stroke-width="0.95"/>
<circle cx="211.9" cy="541.3" r="1.82" fill="none" stroke="#5d7cbf" stroke-width="0.95"/>
<circle cx="213.3" cy="543.2" r="1.82" fill="none" stroke="#5d7cbf" stroke-width="0.95"/>
<circle cx="214.8" cy="547" r="1.82" fill="none" stroke="#5d7cbf" stroke-width="0.95"/>
<circle cx="209.5" cy="549.6" r="1.82" fill="none" stroke="#5d7cbf" stroke-width="0.95"/>
<line x1="227.3" y1="538.5" x2="242.9" y2="538.5" stroke="#1a1a1a" stroke-width="1"/>
<rect x="233.2" y="463.5" width="3.8" height="3.8" fill="#a5483a"/>
<rect x="233.2" y="470.9" width="3.8" height="3.8" fill="#a5483a"/>
<rect x="227.1" y="475.9" width="3.8" height="3.8" fill="#a5483a"/>
<rect x="231" y="478.1" width="3.8" height="3.8" fill="#a5483a"/>
<rect x="234.8" y="480.5" width="3.8" height="3.8" fill="#a5483a"/>
<rect x="238.7" y="478.1" width="3.8" height="3.8" fill="#a5483a"/>
<rect x="233.2" y="504.9" width="3.8" height="3.8" fill="#a5483a"/>
<rect x="227.3" y="529.1" width="3.8" height="3.8" fill="#a5483a"/>
<rect x="238.5" y="530.7" width="3.8" height="3.8" fill="#a5483a"/>
<rect x="229.2" y="534.5" width="3.8" height="3.8" fill="#a5483a"/>
<rect x="233" y="533.9" width="3.8" height="3.8" fill="#a5483a"/>
<rect x="236.9" y="534.3" width="3.8" height="3.8" fill="#a5483a"/>
<rect x="227.6" y="536.2" width="3.8" height="3.8" fill="#a5483a"/>
<rect x="238.5" y="536.2" width="3.8" height="3.8" fill="#a5483a"/>
<rect x="231.1" y="537.4" width="3.8" height="3.8" fill="#a5483a"/>
<rect x="235" y="537.1" width="3.8" height="3.8" fill="#a5483a"/>
<rect x="233" y="540.8" width="3.8" height="3.8" fill="#a5483a"/>
<rect x="227.3" y="545.4" width="3.8" height="3.8" fill="#a5483a"/>
<rect x="238.3" y="545.1" width="3.8" height="3.8" fill="#a5483a"/>
<rect x="227.3" y="549.3" width="3.8" height="3.8" fill="#a5483a"/>
<rect x="233" y="548.3" width="3.8" height="3.8" fill="#a5483a"/>
<rect x="238.8" y="549" width="3.8" height="3.8" fill="#a5483a"/>
<rect x="231.1" y="554.1" width="3.8" height="3.8" fill="#a5483a"/>
<rect x="235" y="552.8" width="3.8" height="3.8" fill="#a5483a"/>
<line x1="319.5" y1="436.5" x2="319.5" y2="565.7" stroke="#141414" stroke-width="1.1"/>
<line x1="315.9" y1="440.2" x2="319.3" y2="440.2" stroke="#141414" stroke-width="1"/>
<text x="298.46" y="442.75" font-size="9.4" textLength="14.59" lengthAdjust="spacingAndGlyphs" fill="#2e2e2e">100</text>
<line x1="315.9" y1="465" x2="319.3" y2="465" stroke="#141414" stroke-width="1"/>
<text x="303.32" y="467.55" font-size="9.4" textLength="9.72" lengthAdjust="spacingAndGlyphs" fill="#2e2e2e">80</text>
<line x1="315.9" y1="489.8" x2="319.3" y2="489.8" stroke="#141414" stroke-width="1"/>
<text x="303.32" y="492.35" font-size="9.4" textLength="9.72" lengthAdjust="spacingAndGlyphs" fill="#2e2e2e">60</text>
<line x1="315.9" y1="515" x2="319.3" y2="515" stroke="#141414" stroke-width="1"/>
<text x="303.32" y="517.55" font-size="9.4" textLength="9.72" lengthAdjust="spacingAndGlyphs" fill="#2e2e2e">40</text>
<line x1="315.9" y1="540" x2="319.3" y2="540" stroke="#141414" stroke-width="1"/>
<text x="303.32" y="542.55" font-size="9.4" textLength="9.72" lengthAdjust="spacingAndGlyphs" fill="#2e2e2e">20</text>
<line x1="315.9" y1="565.2" x2="319.3" y2="565.2" stroke="#141414" stroke-width="1"/>
<text x="308.18" y="567.75" font-size="9.4" textLength="4.86" lengthAdjust="spacingAndGlyphs" fill="#2e2e2e">0</text>
<line x1="318.75" y1="565.5" x2="505.4" y2="565.5" stroke="#141414" stroke-width="1.1"/>
<line x1="334.5" y1="565.2" x2="334.5" y2="569" stroke="#141414" stroke-width="1"/>
<line x1="356.5" y1="565.2" x2="356.5" y2="569" stroke="#141414" stroke-width="1"/>
<line x1="378.5" y1="565.2" x2="378.5" y2="569" stroke="#141414" stroke-width="1"/>
<line x1="401.5" y1="565.2" x2="401.5" y2="569" stroke="#141414" stroke-width="1"/>
<line x1="423.5" y1="565.2" x2="423.5" y2="569" stroke="#141414" stroke-width="1"/>
<line x1="446.5" y1="565.2" x2="446.5" y2="569" stroke="#141414" stroke-width="1"/>
<line x1="468.5" y1="565.2" x2="468.5" y2="569" stroke="#141414" stroke-width="1"/>
<line x1="490.5" y1="565.2" x2="490.5" y2="569" stroke="#141414" stroke-width="1"/>
<line x1="326.9" y1="572.5" x2="362.7" y2="572.5" stroke="#3c3c3c" stroke-width="1.1"/>
<line x1="372.3" y1="572.5" x2="408.3" y2="572.5" stroke="#3c3c3c" stroke-width="1.1"/>
<line x1="415.7" y1="572.5" x2="451.4" y2="572.5" stroke="#3c3c3c" stroke-width="1.1"/>
<line x1="461.5" y1="572.5" x2="497.9" y2="572.5" stroke="#3c3c3c" stroke-width="1.1"/>
<text x="326.86" y="583.5" font-size="9.8" textLength="35.54" lengthAdjust="spacingAndGlyphs" fill="#2e2e2e">12 weeks</text>
<text x="372.27" y="583.5" font-size="9.8" textLength="35.73" lengthAdjust="spacingAndGlyphs" fill="#2e2e2e">20 weeks</text>
<text x="415.38" y="583.5" font-size="9.8" textLength="35.73" lengthAdjust="spacingAndGlyphs" fill="#2e2e2e">30 weeks</text>
<text x="467.97" y="583.5" font-size="9.8" textLength="22.97" lengthAdjust="spacingAndGlyphs" fill="#2e2e2e">1 year</text>
<text x="327.17" y="430" font-size="8.5" textLength="34.53" lengthAdjust="spacingAndGlyphs" fill="#383838" style="stroke-width:0">p&lt;0.0001</text>
<line x1="325.8" y1="435.5" x2="363.3" y2="435.5" stroke="#3c3c3c" stroke-width="1.2"/>
<text x="371.38" y="430" font-size="8.5" textLength="33.61" lengthAdjust="spacingAndGlyphs" fill="#383838" style="stroke-width:0">p&lt;0.0001</text>
<line x1="369.6" y1="435.5" x2="407.5" y2="435.5" stroke="#3c3c3c" stroke-width="1.2"/>
<text x="416.17" y="430" font-size="8.5" textLength="34.63" lengthAdjust="spacingAndGlyphs" fill="#383838" style="stroke-width:0">p&lt;0.0001</text>
<line x1="414.2" y1="435.5" x2="452.7" y2="435.5" stroke="#3c3c3c" stroke-width="1.2"/>
<text x="460.47" y="430" font-size="8.5" textLength="34.37" lengthAdjust="spacingAndGlyphs" fill="#383838" style="stroke-width:0">p=0.0004</text>
<line x1="459" y1="435.5" x2="496.9" y2="435.5" stroke="#3c3c3c" stroke-width="1.2"/>
<circle cx="330.1" cy="455.1" r="3.2" fill="none" stroke="#6887c9" stroke-width="1.1"/>
<text x="336.97" y="457.9" font-size="8.9" textLength="12.01" lengthAdjust="spacingAndGlyphs" fill="#2e2e2e">WT</text>
<rect x="326.8" y="465.8" width="6.8" height="6.6" fill="#a5483a"/>
<g transform="translate(336.61,472.5) scale(0.8668,1)" fill="#2e2e2e">
<text x="0" y="0" font-size="8.9" textLength="27.2" lengthAdjust="spacingAndGlyphs">CD11c</text>
<text x="27.2" y="-3.2" font-size="6.4" textLength="22.41" lengthAdjust="spacingAndGlyphs">ΔMHCII</text>
</g>
<text transform="translate(291.1,574.65) rotate(-90)" x="0" y="0" font-size="11.3" textLength="137.7" lengthAdjust="spacingAndGlyphs" fill="#2e2e2e">Effector phenotype (% of CD8</text>
<text transform="translate(288.7,436.81) rotate(-90)" x="0" y="0" font-size="10" textLength="4.93" lengthAdjust="spacingAndGlyphs" fill="#2e2e2e">+</text>
<text transform="translate(291.1,431.86) rotate(-90)" x="0" y="0" font-size="11.3" textLength="3.52" lengthAdjust="spacingAndGlyphs" fill="#2e2e2e">)</text>
<line x1="326.2" y1="556.5" x2="341.9" y2="556.5" stroke="#1a1a1a" stroke-width="1"/>
<circle cx="329.2" cy="550.9" r="1.82" fill="none" stroke="#5d7cbf" stroke-width="0.95"/>
<circle cx="334" cy="550.9" r="1.82" fill="none" stroke="#5d7cbf" stroke-width="0.95"/>
<circle cx="339.1" cy="550.5" r="1.82" fill="none" stroke="#5d7cbf" stroke-width="0.95"/>
<circle cx="330.8" cy="554.6" r="1.82" fill="none" stroke="#5d7cbf" stroke-width="0.95"/>
<circle cx="335.9" cy="554.9" r="1.82" fill="none" stroke="#5d7cbf" stroke-width="0.95"/>
<circle cx="338.6" cy="554.3" r="1.82" fill="none" stroke="#5d7cbf" stroke-width="0.95"/>
<circle cx="329.4" cy="556.9" r="1.82" fill="none" stroke="#5d7cbf" stroke-width="0.95"/>
<circle cx="332.6" cy="557.9" r="1.82" fill="none" stroke="#5d7cbf" stroke-width="0.95"/>
<circle cx="337.2" cy="557.4" r="1.82" fill="none" stroke="#5d7cbf" stroke-width="0.95"/>
<circle cx="334" cy="559.2" r="1.82" fill="none" stroke="#5d7cbf" stroke-width="0.95"/>
<line x1="348.8" y1="541.5" x2="364.7" y2="541.5" stroke="#1a1a1a" stroke-width="1"/>
<rect x="349.8" y="525.9" width="3.8" height="3.8" fill="#a5483a"/>
<rect x="354.7" y="528.4" width="3.8" height="3.8" fill="#a5483a"/>
<rect x="359.6" y="527.1" width="3.8" height="3.8" fill="#a5483a"/>
<rect x="359.6" y="533.1" width="3.8" height="3.8" fill="#a5483a"/>
<rect x="349.8" y="536.8" width="3.8" height="3.8" fill="#a5483a"/>
<rect x="354.7" y="537.7" width="3.8" height="3.8" fill="#a5483a"/>
<rect x="349.8" y="539.8" width="3.8" height="3.8" fill="#a5483a"/>
<rect x="360.3" y="540.4" width="3.8" height="3.8" fill="#a5483a"/>
<rect x="351.5" y="542.3" width="3.8" height="3.8" fill="#a5483a"/>
<rect x="358" y="542.8" width="3.8" height="3.8" fill="#a5483a"/>
<rect x="353.3" y="544.1" width="3.8" height="3.8" fill="#a5483a"/>
<rect x="356.1" y="544.4" width="3.8" height="3.8" fill="#a5483a"/>
<rect x="354.7" y="545.3" width="3.8" height="3.8" fill="#a5483a"/>
<line x1="371.1" y1="554.5" x2="387.1" y2="554.5" stroke="#1a1a1a" stroke-width="1"/>
<circle cx="379" cy="540.4" r="1.82" fill="none" stroke="#5d7cbf" stroke-width="0.95"/>
<circle cx="381.7" cy="544.3" r="1.82" fill="none" stroke="#5d7cbf" stroke-width="0.95"/>
<circle cx="373.3" cy="546.5" r="1.82" fill="none" stroke="#5d7cbf" stroke-width="0.95"/>
<circle cx="376.1" cy="549.5" r="1.82" fill="none" stroke="#5d7cbf" stroke-width="0.95"/>
<circle cx="381.7" cy="550" r="1.82" fill="none" stroke="#5d7cbf" stroke-width="0.95"/>
<circle cx="385.2" cy="551.6" r="1.82" fill="none" stroke="#5d7cbf" stroke-width="0.95"/>
<circle cx="373.1" cy="551.6" r="1.82" fill="none" stroke="#5d7cbf" stroke-width="0.95"/>
<circle cx="378.1" cy="552.6" r="1.82" fill="none" stroke="#5d7cbf" stroke-width="0.95"/>
<circle cx="381.2" cy="553.6" r="1.82" fill="none" stroke="#5d7cbf" stroke-width="0.95"/>
<circle cx="374.6" cy="555.1" r="1.82" fill="none" stroke="#5d7cbf" stroke-width="0.95"/>
<circle cx="383.7" cy="555.1" r="1.82" fill="none" stroke="#5d7cbf" stroke-width="0.95"/>
<circle cx="377.1" cy="556.1" r="1.82" fill="none" stroke="#5d7cbf" stroke-width="0.95"/>
<circle cx="380.7" cy="557.1" r="1.82" fill="none" stroke="#5d7cbf" stroke-width="0.95"/>
<circle cx="376.1" cy="558.6" r="1.82" fill="none" stroke="#5d7cbf" stroke-width="0.95"/>
<circle cx="379.2" cy="560.5" r="1.82" fill="none" stroke="#5d7cbf" stroke-width="0.95"/>
<line x1="393.1" y1="535.5" x2="409.3" y2="535.5" stroke="#1a1a1a" stroke-width="1"/>
<rect x="399.6" y="456.3" width="3.8" height="3.8" fill="#a5483a"/>
<rect x="399.6" y="473.9" width="3.8" height="3.8" fill="#a5483a"/>
<rect x="399.6" y="482" width="3.8" height="3.8" fill="#a5483a"/>
<rect x="399.6" y="487.4" width="3.8" height="3.8" fill="#a5483a"/>
<rect x="394.5" y="520.1" width="3.8" height="3.8" fill="#a5483a"/>
<rect x="399.3" y="524.6" width="3.8" height="3.8" fill="#a5483a"/>
<rect x="404.4" y="524.2" width="3.8" height="3.8" fill="#a5483a"/>
<rect x="396.3" y="533.5" width="3.8" height="3.8" fill="#a5483a"/>
<rect x="402.1" y="533.5" width="3.8" height="3.8" fill="#a5483a"/>
<rect x="399" y="535.3" width="3.8" height="3.8" fill="#a5483a"/>
<rect x="394.5" y="540.3" width="3.8" height="3.8" fill="#a5483a"/>
<rect x="404.4" y="543.6" width="3.8" height="3.8" fill="#a5483a"/>
<rect x="399.3" y="545.1" width="3.8" height="3.8" fill="#a5483a"/>
<line x1="415.7" y1="549.5" x2="431.6" y2="549.5" stroke="#1a1a1a" stroke-width="1"/>
<circle cx="423.5" cy="536.6" r="1.82" fill="none" stroke="#5d7cbf" stroke-width="0.95"/>
<circle cx="420.5" cy="542.4" r="1.82" fill="none" stroke="#5d7cbf" stroke-width="0.95"/>
<circle cx="429.2" cy="542.4" r="1.82" fill="none" stroke="#5d7cbf" stroke-width="0.95"/>
<circle cx="418.8" cy="546.8" r="1.82" fill="none" stroke="#5d7cbf" stroke-width="0.95"/>
<circle cx="426.2" cy="546.4" r="1.82" fill="none" stroke="#5d7cbf" stroke-width="0.95"/>
<circle cx="422.8" cy="548.4" r="1.82" fill="none" stroke="#5d7cbf" stroke-width="0.95"/>
<circle cx="427.5" cy="549.5" r="1.82" fill="none" stroke="#5d7cbf" stroke-width="0.95"/>
<circle cx="420.1" cy="551.4" r="1.82" fill="none" stroke="#5d7cbf" stroke-width="0.95"/>
<circle cx="424.8" cy="551.1" r="1.82" fill="none" stroke="#5d7cbf" stroke-width="0.95"/>
<circle cx="427.8" cy="551.8" r="1.82" fill="none" stroke="#5d7cbf" stroke-width="0.95"/>
<circle cx="421.9" cy="554.9" r="1.82" fill="none" stroke="#5d7cbf" stroke-width="0.95"/>
<circle cx="425.1" cy="554.9" r="1.82" fill="none" stroke="#5d7cbf" stroke-width="0.95"/>
<circle cx="418.8" cy="558.5" r="1.82" fill="none" stroke="#5d7cbf" stroke-width="0.95"/>
<circle cx="423.5" cy="560.3" r="1.82" fill="none" stroke="#5d7cbf" stroke-width="0.95"/>
<circle cx="428.6" cy="559.9" r="1.82" fill="none" stroke="#5d7cbf" stroke-width="0.95"/>
<line x1="439" y1="526.5" x2="453.9" y2="526.5" stroke="#1a1a1a" stroke-width="1"/>
<rect x="443.9" y="489.8" width="3.8" height="3.8" fill="#a5483a"/>
<rect x="443.9" y="512.1" width="3.8" height="3.8" fill="#a5483a"/>
<rect x="441.2" y="518.5" width="3.8" height="3.8" fill="#a5483a"/>
<rect x="446.6" y="519.8" width="3.8" height="3.8" fill="#a5483a"/>
<rect x="449.9" y="522.5" width="3.8" height="3.8" fill="#a5483a"/>
<rect x="438.1" y="524.9" width="3.8" height="3.8" fill="#a5483a"/>
<rect x="442.5" y="526" width="3.8" height="3.8" fill="#a5483a"/>
<rect x="445.9" y="527" width="3.8" height="3.8" fill="#a5483a"/>
<rect x="441.2" y="529.7" width="3.8" height="3.8" fill="#a5483a"/>
<rect x="447.2" y="532.8" width="3.8" height="3.8" fill="#a5483a"/>
<rect x="443.9" y="542.7" width="3.8" height="3.8" fill="#a5483a"/>
<line x1="460.2" y1="544.5" x2="476.6" y2="544.5" stroke="#1a1a1a" stroke-width="1"/>
<circle cx="465.5" cy="526.7" r="1.82" fill="none" stroke="#5d7cbf" stroke-width="0.95"/>
<circle cx="470.9" cy="531.2" r="1.82" fill="none" stroke="#5d7cbf" stroke-width="0.95"/>
<circle cx="463.3" cy="535.8" r="1.82" fill="none" stroke="#5d7cbf" stroke-width="0.95"/>
<circle cx="472.8" cy="537.8" r="1.82" fill="none" stroke="#5d7cbf" stroke-width="0.95"/>
<circle cx="466" cy="539" r="1.82" fill="none" stroke="#5d7cbf" stroke-width="0.95"/>
<circle cx="468.3" cy="540.5" r="1.82" fill="none" stroke="#5d7cbf" stroke-width="0.95"/>
<circle cx="470.9" cy="539.9" r="1.82" fill="none" stroke="#5d7cbf" stroke-width="0.95"/>
<circle cx="463.3" cy="542.8" r="1.82" fill="none" stroke="#5d7cbf" stroke-width="0.95"/>
<circle cx="466" cy="543.1" r="1.82" fill="none" stroke="#5d7cbf" stroke-width="0.95"/>
<circle cx="470.6" cy="542.8" r="1.82" fill="none" stroke="#5d7cbf" stroke-width="0.95"/>
<circle cx="473.2" cy="543.1" r="1.82" fill="none" stroke="#5d7cbf" stroke-width="0.95"/>
<circle cx="464.9" cy="546.6" r="1.82" fill="none" stroke="#5d7cbf" stroke-width="0.95"/>
<circle cx="469.4" cy="546.2" r="1.82" fill="none" stroke="#5d7cbf" stroke-width="0.95"/>
<circle cx="462.6" cy="549.2" r="1.82" fill="none" stroke="#5d7cbf" stroke-width="0.95"/>
<circle cx="466.4" cy="548.8" r="1.82" fill="none" stroke="#5d7cbf" stroke-width="0.95"/>
<circle cx="470.9" cy="548.5" r="1.82" fill="none" stroke="#5d7cbf" stroke-width="0.95"/>
<circle cx="473.6" cy="549.6" r="1.82" fill="none" stroke="#5d7cbf" stroke-width="0.95"/>
<circle cx="464.9" cy="550.7" r="1.82" fill="none" stroke="#5d7cbf" stroke-width="0.95"/>
<circle cx="469" cy="551.5" r="1.82" fill="none" stroke="#5d7cbf" stroke-width="0.95"/>
<circle cx="472.1" cy="551.1" r="1.82" fill="none" stroke="#5d7cbf" stroke-width="0.95"/>
<circle cx="467.5" cy="553.4" r="1.82" fill="none" stroke="#5d7cbf" stroke-width="0.95"/>
<circle cx="470.2" cy="553.4" r="1.82" fill="none" stroke="#5d7cbf" stroke-width="0.95"/>
<circle cx="468.3" cy="555.1" r="1.82" fill="none" stroke="#5d7cbf" stroke-width="0.95"/>
<line x1="483" y1="527.5" x2="498.9" y2="527.5" stroke="#1a1a1a" stroke-width="1"/>
<rect x="488.8" y="461.3" width="3.8" height="3.8" fill="#a5483a"/>
<rect x="488.8" y="466.9" width="3.8" height="3.8" fill="#a5483a"/>
<rect x="486.4" y="489.1" width="3.8" height="3.8" fill="#a5483a"/>
<rect x="491.7" y="487.3" width="3.8" height="3.8" fill="#a5483a"/>
<rect x="486.4" y="494.9" width="3.8" height="3.8" fill="#a5483a"/>
<rect x="494.7" y="497" width="3.8" height="3.8" fill="#a5483a"/>
<rect x="491.7" y="500.9" width="3.8" height="3.8" fill="#a5483a"/>
<rect x="486.4" y="506.2" width="3.8" height="3.8" fill="#a5483a"/>
<rect x="486.4" y="513.3" width="3.8" height="3.8" fill="#a5483a"/>
<rect x="494.2" y="514.4" width="3.8" height="3.8" fill="#a5483a"/>
<rect x="491.7" y="519.2" width="3.8" height="3.8" fill="#a5483a"/>
<rect x="486.4" y="521.8" width="3.8" height="3.8" fill="#a5483a"/>
<rect x="493.4" y="525.7" width="3.8" height="3.8" fill="#a5483a"/>
<rect x="484.1" y="530.3" width="3.8" height="3.8" fill="#a5483a"/>
<rect x="488.8" y="531" width="3.8" height="3.8" fill="#a5483a"/>
<rect x="484.1" y="534.6" width="3.8" height="3.8" fill="#a5483a"/>
<rect x="486.4" y="536.3" width="3.8" height="3.8" fill="#a5483a"/>
<rect x="493.4" y="536.3" width="3.8" height="3.8" fill="#a5483a"/>
<rect x="488.1" y="539.9" width="3.8" height="3.8" fill="#a5483a"/>
<rect x="491.1" y="539.2" width="3.8" height="3.8" fill="#a5483a"/>
<rect x="483.2" y="545.7" width="3.8" height="3.8" fill="#a5483a"/>
<rect x="487.1" y="546.9" width="3.8" height="3.8" fill="#a5483a"/>
<rect x="490.3" y="548.7" width="3.8" height="3.8" fill="#a5483a"/>
<rect x="494.7" y="546.9" width="3.8" height="3.8" fill="#a5483a"/>
<rect x="488.8" y="559.3" width="3.8" height="3.8" fill="#a5483a"/>
<rect x="0" y="0" width="1.1" height="593" fill="#0a0a0a"/>
<rect x="0" y="0" width="520" height="1.6" fill="#5a5a5a"/>
<rect x="518" y="0" width="2" height="593" fill="#545454"/>
<rect x="0" y="590.6" width="520" height="2.4" fill="#545454"/>
</svg>
</body></html>
